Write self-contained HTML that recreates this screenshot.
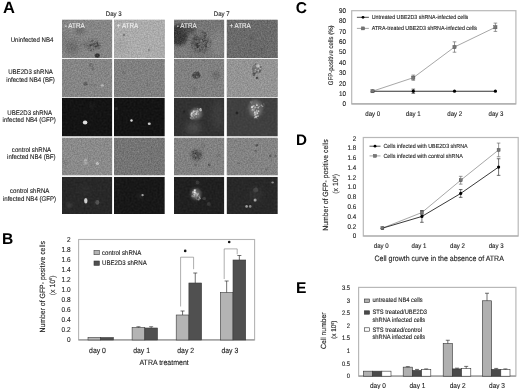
<!DOCTYPE html><html><head><meta charset="utf-8"><style>html,body{margin:0;padding:0;background:#fff;}svg{display:block;filter:grayscale(1) blur(0.35px);}text{font-family:"Liberation Sans", sans-serif;text-rendering:geometricPrecision;} .t text{stroke-width:0.22px;paint-order:stroke;}</style></head><body>
<svg width="520" height="389" viewBox="0 0 520 389">
<defs><filter id="b0" x="-50%" y="-50%" width="200%" height="200%"><feGaussianBlur stdDeviation="0.45"/></filter><filter id="b1" x="-50%" y="-50%" width="200%" height="200%"><feGaussianBlur stdDeviation="0.6"/></filter><filter id="b2" x="-50%" y="-50%" width="200%" height="200%"><feGaussianBlur stdDeviation="1.5"/></filter><filter id="b3" x="-50%" y="-50%" width="200%" height="200%"><feGaussianBlur stdDeviation="3"/></filter><filter id="grain0" x="0" y="0" width="100%" height="100%" color-interpolation-filters="sRGB"><feTurbulence type="fractalNoise" baseFrequency="0.7" numOctaves="2" seed="5" result="n"/><feColorMatrix in="n" type="matrix" values="1 0 0 0 0  1 0 0 0 0  1 0 0 0 0  0 0 0 0 1" result="g"/><feComposite in="SourceGraphic" in2="g" operator="arithmetic" k1="0" k2="1" k3="0.22" k4="-0.11"/></filter><filter id="grain1" x="0" y="0" width="100%" height="100%" color-interpolation-filters="sRGB"><feTurbulence type="fractalNoise" baseFrequency="0.7" numOctaves="2" seed="9" result="n"/><feColorMatrix in="n" type="matrix" values="1 0 0 0 0  1 0 0 0 0  1 0 0 0 0  0 0 0 0 1" result="g"/><feComposite in="SourceGraphic" in2="g" operator="arithmetic" k1="0" k2="1" k3="0.22" k4="-0.11"/></filter><filter id="grain2" x="0" y="0" width="100%" height="100%" color-interpolation-filters="sRGB"><feTurbulence type="fractalNoise" baseFrequency="0.5" numOctaves="2" seed="13" result="n"/><feColorMatrix in="n" type="matrix" values="1 0 0 0 0  1 0 0 0 0  1 0 0 0 0  0 0 0 0 1" result="g"/><feComposite in="SourceGraphic" in2="g" operator="arithmetic" k1="0" k2="1" k3="0.08" k4="-0.04"/></filter><filter id="noise" x="0" y="0" width="100%" height="100%"><feTurbulence type="fractalNoise" baseFrequency="0.45" numOctaves="2" seed="3"/><feColorMatrix type="matrix" values="0 0 0 0 0.5  0 0 0 0 0.5  0 0 0 0 0.5  1.6 0 0 0 -0.6"/><feComponentTransfer><feFuncA type="table" tableValues="0 0.25"/></feComponentTransfer></filter></defs>
<rect x="0" y="0" width="520" height="389" fill="#fff"/>
<text x="2.9" y="13.3" font-size="16.5" text-anchor="start" fill="#000" font-weight="bold" >A</text>
<text transform="translate(113.7,15.8) scale(1,1.1)" x="0" y="0" font-size="6.1" text-anchor="middle" fill="#1a1a1a" font-weight="normal" stroke="#1a1a1a" stroke-width="0.1" >Day 3</text>
<text transform="translate(221.7,15.8) scale(1,1.1)" x="0" y="0" font-size="6.1" text-anchor="middle" fill="#1a1a1a" font-weight="normal" stroke="#1a1a1a" stroke-width="0.1" >Day 7</text>
<clipPath id="c00"><rect x="62" y="19.6" width="50.3" height="38.6"/></clipPath>
<g clip-path="url(#c00)">
<g filter="url(#grain0)">
<rect x="62" y="19.6" width="50.3" height="38.6" fill="rgb(133,133,133)"/>
<ellipse cx="72" cy="47" rx="7" ry="7" fill="rgb(100,100,100)" opacity="0.8" filter="url(#b3)"/>
<ellipse cx="80" cy="31" rx="5" ry="3.5" fill="rgb(100,100,100)" opacity="0.7" filter="url(#b2)"/>
<ellipse cx="92" cy="45" rx="9" ry="6" fill="rgb(112,112,112)" opacity="0.7" filter="url(#b2)"/>
<ellipse cx="97.3" cy="55.5" rx="2.5" ry="2.2" fill="rgb(45,45,45)" opacity="0.9" filter="url(#b1)"/>
<ellipse cx="63" cy="38" rx="3" ry="8" fill="rgb(110,110,110)" opacity="0.6" filter="url(#b3)"/>
<g filter="url(#b0)">
<circle cx="97.22" cy="42.31" r="0.80" fill="rgb(64,64,64)" opacity="0.51"/>
<circle cx="97.62" cy="40.53" r="0.61" fill="rgb(127,127,127)" opacity="0.38"/>
<circle cx="92.13" cy="47.44" r="0.69" fill="rgb(142,142,142)" opacity="0.64"/>
<circle cx="93.66" cy="49.83" r="0.75" fill="rgb(57,57,57)" opacity="0.44"/>
<circle cx="92.01" cy="44.95" r="0.69" fill="rgb(51,51,51)" opacity="0.79"/>
<circle cx="92.35" cy="42.69" r="0.61" fill="rgb(131,131,131)" opacity="0.65"/>
<circle cx="95.28" cy="41.54" r="1.00" fill="rgb(118,118,118)" opacity="0.53"/>
<circle cx="90.32" cy="47.44" r="0.88" fill="rgb(127,127,127)" opacity="0.59"/>
<circle cx="98.28" cy="46.87" r="0.72" fill="rgb(71,71,71)" opacity="0.50"/>
<circle cx="98.54" cy="45.06" r="0.84" fill="rgb(52,52,52)" opacity="0.53"/>
<circle cx="97.76" cy="44.06" r="0.67" fill="rgb(66,66,66)" opacity="0.56"/>
<circle cx="95.79" cy="43.62" r="0.78" fill="rgb(68,68,68)" opacity="0.65"/>
<circle cx="93.34" cy="43.83" r="0.80" fill="rgb(46,46,46)" opacity="0.75"/>
<circle cx="94.49" cy="43.83" r="0.67" fill="rgb(74,74,74)" opacity="0.72"/>
<circle cx="97.33" cy="45.44" r="0.94" fill="rgb(60,60,60)" opacity="0.59"/>
<circle cx="100.24" cy="45.86" r="0.78" fill="rgb(61,61,61)" opacity="0.42"/>
<circle cx="97.54" cy="48.53" r="0.95" fill="rgb(139,139,139)" opacity="0.45"/>
<circle cx="93.30" cy="45.67" r="0.77" fill="rgb(71,71,71)" opacity="0.79"/>
<circle cx="94.12" cy="41.70" r="0.80" fill="rgb(55,55,55)" opacity="0.56"/>
<circle cx="90.54" cy="45.42" r="0.85" fill="rgb(58,58,58)" opacity="0.70"/>
<circle cx="87.84" cy="45.93" r="0.94" fill="rgb(138,138,138)" opacity="0.54"/>
<circle cx="98.06" cy="42.31" r="0.94" fill="rgb(117,117,117)" opacity="0.48"/>
<circle cx="97.09" cy="42.25" r="0.64" fill="rgb(55,55,55)" opacity="0.52"/>
<circle cx="93.44" cy="41.35" r="0.71" fill="rgb(128,128,128)" opacity="0.54"/>
<circle cx="90.15" cy="44.71" r="0.61" fill="rgb(57,57,57)" opacity="0.68"/>
<circle cx="99.40" cy="45.11" r="0.68" fill="rgb(69,69,69)" opacity="0.48"/>
<circle cx="87.34" cy="47.41" r="0.66" fill="rgb(135,135,135)" opacity="0.46"/>
<circle cx="93.72" cy="41.93" r="0.99" fill="rgb(130,130,130)" opacity="0.59"/>
<circle cx="88.57" cy="46.63" r="0.76" fill="rgb(54,54,54)" opacity="0.56"/>
<circle cx="95.10" cy="40.15" r="0.72" fill="rgb(141,141,141)" opacity="0.42"/>
<circle cx="89.90" cy="48.94" r="0.72" fill="rgb(137,137,137)" opacity="0.47"/>
<circle cx="91.66" cy="42.28" r="0.60" fill="rgb(116,116,116)" opacity="0.61"/>
<circle cx="94.12" cy="41.39" r="0.95" fill="rgb(136,136,136)" opacity="0.54"/>
<circle cx="93.14" cy="43.66" r="0.74" fill="rgb(65,65,65)" opacity="0.74"/>
<circle cx="91.93" cy="41.64" r="0.64" fill="rgb(123,123,123)" opacity="0.56"/>
<circle cx="93.00" cy="43.08" r="0.95" fill="rgb(115,115,115)" opacity="0.69"/>
<circle cx="88.21" cy="43.11" r="0.99" fill="rgb(125,125,125)" opacity="0.53"/>
<circle cx="88.41" cy="46.92" r="0.94" fill="rgb(125,125,125)" opacity="0.54"/>
<circle cx="99.12" cy="47.06" r="0.79" fill="rgb(122,122,122)" opacity="0.45"/>
<circle cx="96.61" cy="40.43" r="0.67" fill="rgb(121,121,121)" opacity="0.41"/>
<circle cx="97.15" cy="46.10" r="0.94" fill="rgb(55,55,55)" opacity="0.59"/>
<circle cx="89.66" cy="49.04" r="0.84" fill="rgb(141,141,141)" opacity="0.45"/>
<circle cx="87.17" cy="45.56" r="0.64" fill="rgb(47,47,47)" opacity="0.51"/>
<circle cx="98.86" cy="48.17" r="0.93" fill="rgb(63,63,63)" opacity="0.41"/>
<circle cx="97.51" cy="43.66" r="0.83" fill="rgb(47,47,47)" opacity="0.56"/>
<circle cx="89.27" cy="49.30" r="0.83" fill="rgb(128,128,128)" opacity="0.42"/>
<circle cx="89.43" cy="48.16" r="0.93" fill="rgb(65,65,65)" opacity="0.51"/>
<circle cx="91.74" cy="40.77" r="0.67" fill="rgb(67,67,67)" opacity="0.48"/>
<circle cx="91.05" cy="50.17" r="0.96" fill="rgb(52,52,52)" opacity="0.40"/>
<circle cx="92.63" cy="40.60" r="0.86" fill="rgb(45,45,45)" opacity="0.48"/>
<circle cx="94.55" cy="44.45" r="0.73" fill="rgb(72,72,72)" opacity="0.75"/>
<circle cx="86.78" cy="41.87" r="0.85" fill="rgb(131,131,131)" opacity="0.40"/>
<circle cx="96.01" cy="46.78" r="0.70" fill="rgb(54,54,54)" opacity="0.62"/>
<circle cx="88.94" cy="40.40" r="0.71" fill="rgb(128,128,128)" opacity="0.39"/>
<circle cx="95.43" cy="46.58" r="0.98" fill="rgb(54,54,54)" opacity="0.65"/>
<circle cx="90.24" cy="42.98" r="0.94" fill="rgb(124,124,124)" opacity="0.61"/>
<circle cx="90.35" cy="45.49" r="0.83" fill="rgb(52,52,52)" opacity="0.69"/>
<circle cx="86.16" cy="45.56" r="0.63" fill="rgb(64,64,64)" opacity="0.45"/>
<circle cx="89.65" cy="48.21" r="0.80" fill="rgb(119,119,119)" opacity="0.51"/>
<circle cx="93.02" cy="48.24" r="0.63" fill="rgb(120,120,120)" opacity="0.57"/>
<circle cx="86.01" cy="45.42" r="0.87" fill="rgb(83,83,83)" opacity="0.38"/>
<circle cx="84.64" cy="44.49" r="0.66" fill="rgb(76,76,76)" opacity="0.60"/>
<circle cx="86.70" cy="44.27" r="0.78" fill="rgb(66,66,66)" opacity="0.35"/>
<circle cx="81.16" cy="43.79" r="0.73" fill="rgb(91,91,91)" opacity="0.34"/>
<circle cx="84.15" cy="44.36" r="0.69" fill="rgb(74,74,74)" opacity="0.65"/>
<circle cx="81.82" cy="44.06" r="1.00" fill="rgb(125,125,125)" opacity="0.42"/>
<circle cx="86.36" cy="45.78" r="0.89" fill="rgb(142,142,142)" opacity="0.32"/>
<circle cx="85.74" cy="43.12" r="0.99" fill="rgb(124,124,124)" opacity="0.45"/>
<circle cx="85.52" cy="45.29" r="0.78" fill="rgb(134,134,134)" opacity="0.44"/>
<circle cx="86.55" cy="44.01" r="0.93" fill="rgb(91,91,91)" opacity="0.37"/>
<circle cx="86.40" cy="43.77" r="0.83" fill="rgb(141,141,141)" opacity="0.39"/>
<circle cx="83.92" cy="42.33" r="0.73" fill="rgb(124,124,124)" opacity="0.49"/>
</g>
</g>
</g>
<clipPath id="c01"><rect x="114" y="19.6" width="50.8" height="38.6"/></clipPath>
<g clip-path="url(#c01)">
<g filter="url(#grain0)">
<rect x="114" y="19.6" width="50.8" height="38.6" fill="rgb(171,171,171)"/>
<ellipse cx="124" cy="35" rx="1.3" ry="1.3" fill="rgb(110,110,110)" opacity="0.8" filter="url(#b1)"/>
<ellipse cx="149" cy="50" rx="1.5" ry="1.5" fill="rgb(130,130,130)" opacity="0.7" filter="url(#b1)"/>
<ellipse cx="120" cy="45" rx="6" ry="6" fill="rgb(150,150,150)" opacity="0.5" filter="url(#b3)"/>
</g>
</g>
<clipPath id="c02"><rect x="174" y="19.6" width="50.3" height="38.6"/></clipPath>
<g clip-path="url(#c02)">
<g filter="url(#grain0)">
<rect x="174" y="19.6" width="50.3" height="38.6" fill="rgb(118,118,118)"/>
<ellipse cx="179" cy="35" rx="9" ry="11" fill="rgb(58,58,58)" opacity="1" filter="url(#b2)"/>
<ellipse cx="188" cy="29" rx="8" ry="5" fill="rgb(72,72,72)" opacity="0.85" filter="url(#b2)"/>
<ellipse cx="200" cy="43" rx="9" ry="9" fill="rgb(95,95,95)" opacity="0.7" filter="url(#b2)"/>
<ellipse cx="218" cy="44" rx="7" ry="14" fill="rgb(140,140,140)" opacity="0.6" filter="url(#b3)"/>
<ellipse cx="182" cy="52" rx="8" ry="5" fill="rgb(135,135,135)" opacity="0.6" filter="url(#b3)"/>
<g filter="url(#b0)">
<circle cx="195.00" cy="43.47" r="0.65" fill="rgb(58,58,58)" opacity="0.60"/>
<circle cx="207.59" cy="37.21" r="0.59" fill="rgb(129,129,129)" opacity="0.46"/>
<circle cx="207.57" cy="41.98" r="0.76" fill="rgb(59,59,59)" opacity="0.53"/>
<circle cx="208.23" cy="43.01" r="0.80" fill="rgb(116,116,116)" opacity="0.51"/>
<circle cx="205.92" cy="44.50" r="0.62" fill="rgb(65,65,65)" opacity="0.59"/>
<circle cx="199.93" cy="47.31" r="0.85" fill="rgb(142,142,142)" opacity="0.64"/>
<circle cx="198.29" cy="49.12" r="0.68" fill="rgb(141,141,141)" opacity="0.55"/>
<circle cx="199.16" cy="45.29" r="0.62" fill="rgb(51,51,51)" opacity="0.72"/>
<circle cx="197.37" cy="44.37" r="0.73" fill="rgb(135,135,135)" opacity="0.69"/>
<circle cx="193.43" cy="50.43" r="0.89" fill="rgb(132,132,132)" opacity="0.39"/>
<circle cx="204.99" cy="36.14" r="0.83" fill="rgb(48,48,48)" opacity="0.51"/>
<circle cx="206.81" cy="40.53" r="0.56" fill="rgb(63,63,63)" opacity="0.56"/>
<circle cx="202.91" cy="32.49" r="0.79" fill="rgb(66,66,66)" opacity="0.41"/>
<circle cx="210.59" cy="42.62" r="0.90" fill="rgb(42,42,42)" opacity="0.40"/>
<circle cx="202.60" cy="32.19" r="0.58" fill="rgb(58,58,58)" opacity="0.40"/>
<circle cx="208.22" cy="38.40" r="0.88" fill="rgb(126,126,126)" opacity="0.46"/>
<circle cx="199.67" cy="42.94" r="0.76" fill="rgb(56,56,56)" opacity="0.81"/>
<circle cx="203.02" cy="52.19" r="0.70" fill="rgb(61,61,61)" opacity="0.42"/>
<circle cx="194.99" cy="38.12" r="0.89" fill="rgb(56,56,56)" opacity="0.54"/>
<circle cx="190.24" cy="40.63" r="0.73" fill="rgb(58,58,58)" opacity="0.39"/>
<circle cx="203.28" cy="32.82" r="0.75" fill="rgb(60,60,60)" opacity="0.42"/>
<circle cx="197.40" cy="47.05" r="0.80" fill="rgb(41,41,41)" opacity="0.61"/>
<circle cx="204.20" cy="52.69" r="0.60" fill="rgb(57,57,57)" opacity="0.39"/>
<circle cx="196.72" cy="39.51" r="0.63" fill="rgb(57,57,57)" opacity="0.64"/>
<circle cx="196.31" cy="39.80" r="0.81" fill="rgb(57,57,57)" opacity="0.63"/>
<circle cx="205.44" cy="38.32" r="0.59" fill="rgb(122,122,122)" opacity="0.57"/>
<circle cx="193.94" cy="41.08" r="0.78" fill="rgb(49,49,49)" opacity="0.55"/>
<circle cx="197.01" cy="49.84" r="0.68" fill="rgb(120,120,120)" opacity="0.50"/>
<circle cx="197.07" cy="45.81" r="0.85" fill="rgb(46,46,46)" opacity="0.64"/>
<circle cx="192.54" cy="43.15" r="0.58" fill="rgb(140,140,140)" opacity="0.49"/>
<circle cx="193.86" cy="37.63" r="0.82" fill="rgb(64,64,64)" opacity="0.49"/>
<circle cx="197.25" cy="34.35" r="0.62" fill="rgb(123,123,123)" opacity="0.47"/>
<circle cx="197.27" cy="40.67" r="0.67" fill="rgb(67,67,67)" opacity="0.69"/>
<circle cx="210.73" cy="41.06" r="0.88" fill="rgb(121,121,121)" opacity="0.39"/>
<circle cx="205.66" cy="49.91" r="0.77" fill="rgb(48,48,48)" opacity="0.46"/>
<circle cx="197.16" cy="36.50" r="0.53" fill="rgb(48,48,48)" opacity="0.56"/>
<circle cx="208.98" cy="46.76" r="0.87" fill="rgb(141,141,141)" opacity="0.43"/>
<circle cx="202.12" cy="31.79" r="0.80" fill="rgb(48,48,48)" opacity="0.39"/>
<circle cx="203.92" cy="43.05" r="0.67" fill="rgb(133,133,133)" opacity="0.70"/>
<circle cx="197.17" cy="37.05" r="0.84" fill="rgb(63,63,63)" opacity="0.58"/>
<circle cx="197.39" cy="35.84" r="0.71" fill="rgb(120,120,120)" opacity="0.53"/>
<circle cx="206.93" cy="49.62" r="0.50" fill="rgb(65,65,65)" opacity="0.43"/>
<circle cx="195.64" cy="43.10" r="0.67" fill="rgb(63,63,63)" opacity="0.63"/>
<circle cx="200.54" cy="38.45" r="0.63" fill="rgb(59,59,59)" opacity="0.68"/>
<circle cx="202.32" cy="39.44" r="0.58" fill="rgb(43,43,43)" opacity="0.70"/>
<circle cx="201.67" cy="47.25" r="0.65" fill="rgb(45,45,45)" opacity="0.64"/>
<circle cx="197.84" cy="44.80" r="0.81" fill="rgb(64,64,64)" opacity="0.70"/>
<circle cx="203.08" cy="41.00" r="0.65" fill="rgb(61,61,61)" opacity="0.72"/>
<circle cx="198.83" cy="46.77" r="0.68" fill="rgb(56,56,56)" opacity="0.65"/>
<circle cx="204.60" cy="33.07" r="0.67" fill="rgb(66,66,66)" opacity="0.41"/>
<circle cx="209.67" cy="39.73" r="0.86" fill="rgb(122,122,122)" opacity="0.43"/>
<circle cx="199.75" cy="34.21" r="0.83" fill="rgb(141,141,141)" opacity="0.50"/>
<circle cx="206.64" cy="46.19" r="0.79" fill="rgb(43,43,43)" opacity="0.53"/>
<circle cx="193.01" cy="48.53" r="0.52" fill="rgb(42,42,42)" opacity="0.43"/>
<circle cx="208.49" cy="35.44" r="0.51" fill="rgb(118,118,118)" opacity="0.38"/>
<circle cx="207.72" cy="46.32" r="0.83" fill="rgb(132,132,132)" opacity="0.49"/>
<circle cx="206.12" cy="42.75" r="0.79" fill="rgb(62,62,62)" opacity="0.60"/>
<circle cx="196.81" cy="43.91" r="0.83" fill="rgb(45,45,45)" opacity="0.68"/>
<circle cx="195.25" cy="45.05" r="0.80" fill="rgb(51,51,51)" opacity="0.59"/>
<circle cx="198.33" cy="39.21" r="0.67" fill="rgb(55,55,55)" opacity="0.68"/>
<circle cx="210.43" cy="40.58" r="0.80" fill="rgb(60,60,60)" opacity="0.40"/>
<circle cx="205.88" cy="46.32" r="0.71" fill="rgb(59,59,59)" opacity="0.56"/>
<circle cx="192.01" cy="47.96" r="0.87" fill="rgb(53,53,53)" opacity="0.41"/>
<circle cx="205.10" cy="35.59" r="0.61" fill="rgb(57,57,57)" opacity="0.49"/>
<circle cx="196.61" cy="36.61" r="0.78" fill="rgb(123,123,123)" opacity="0.55"/>
<circle cx="204.81" cy="40.59" r="0.84" fill="rgb(48,48,48)" opacity="0.64"/>
<circle cx="200.07" cy="39.92" r="0.57" fill="rgb(49,49,49)" opacity="0.74"/>
<circle cx="206.26" cy="34.66" r="0.90" fill="rgb(57,57,57)" opacity="0.43"/>
<circle cx="199.83" cy="49.86" r="0.83" fill="rgb(54,54,54)" opacity="0.54"/>
<circle cx="205.13" cy="50.35" r="0.66" fill="rgb(143,143,143)" opacity="0.46"/>
<circle cx="199.82" cy="36.55" r="0.59" fill="rgb(135,135,135)" opacity="0.60"/>
<circle cx="195.08" cy="35.67" r="0.60" fill="rgb(61,61,61)" opacity="0.47"/>
<circle cx="195.36" cy="50.53" r="0.63" fill="rgb(61,61,61)" opacity="0.44"/>
<circle cx="207.51" cy="37.92" r="0.64" fill="rgb(60,60,60)" opacity="0.48"/>
<circle cx="199.16" cy="42.19" r="0.58" fill="rgb(68,68,68)" opacity="0.79"/>
<circle cx="198.21" cy="43.48" r="0.55" fill="rgb(59,59,59)" opacity="0.74"/>
<circle cx="209.77" cy="39.73" r="0.81" fill="rgb(123,123,123)" opacity="0.42"/>
<circle cx="204.19" cy="45.89" r="0.82" fill="rgb(62,62,62)" opacity="0.63"/>
<circle cx="210.19" cy="46.30" r="0.71" fill="rgb(54,54,54)" opacity="0.39"/>
<circle cx="197.40" cy="47.30" r="0.77" fill="rgb(45,45,45)" opacity="0.60"/>
<circle cx="203.56" cy="45.38" r="0.57" fill="rgb(134,134,134)" opacity="0.67"/>
<circle cx="192.97" cy="38.79" r="0.79" fill="rgb(56,56,56)" opacity="0.48"/>
<circle cx="203.60" cy="41.57" r="0.62" fill="rgb(42,42,42)" opacity="0.71"/>
<circle cx="205.03" cy="48.10" r="0.72" fill="rgb(125,125,125)" opacity="0.54"/>
<circle cx="195.58" cy="39.93" r="0.85" fill="rgb(55,55,55)" opacity="0.61"/>
<circle cx="195.19" cy="48.42" r="0.64" fill="rgb(52,52,52)" opacity="0.50"/>
<circle cx="201.37" cy="48.48" r="0.64" fill="rgb(118,118,118)" opacity="0.59"/>
<circle cx="195.68" cy="33.69" r="0.55" fill="rgb(136,136,136)" opacity="0.42"/>
<circle cx="193.88" cy="35.66" r="0.67" fill="rgb(139,139,139)" opacity="0.44"/>
<circle cx="205.72" cy="44.52" r="0.56" fill="rgb(45,45,45)" opacity="0.60"/>
<circle cx="201.08" cy="44.00" r="0.58" fill="rgb(63,63,63)" opacity="0.78"/>
<circle cx="198.05" cy="43.66" r="0.73" fill="rgb(69,69,69)" opacity="0.73"/>
<circle cx="204.42" cy="38.09" r="0.84" fill="rgb(58,58,58)" opacity="0.59"/>
<circle cx="206.18" cy="46.06" r="0.70" fill="rgb(53,53,53)" opacity="0.56"/>
<circle cx="194.06" cy="43.15" r="0.51" fill="rgb(59,59,59)" opacity="0.56"/>
<circle cx="199.33" cy="43.95" r="0.88" fill="rgb(119,119,119)" opacity="0.77"/>
<circle cx="206.64" cy="45.21" r="0.52" fill="rgb(47,47,47)" opacity="0.55"/>
<circle cx="191.63" cy="43.36" r="0.87" fill="rgb(66,66,66)" opacity="0.45"/>
<circle cx="204.59" cy="34.46" r="0.84" fill="rgb(67,67,67)" opacity="0.46"/>
<circle cx="205.03" cy="47.77" r="0.64" fill="rgb(142,142,142)" opacity="0.55"/>
<circle cx="208.09" cy="41.11" r="0.80" fill="rgb(43,43,43)" opacity="0.51"/>
<circle cx="194.21" cy="35.04" r="0.70" fill="rgb(131,131,131)" opacity="0.43"/>
<circle cx="198.86" cy="45.78" r="0.62" fill="rgb(62,62,62)" opacity="0.69"/>
<circle cx="198.43" cy="35.47" r="0.86" fill="rgb(126,126,126)" opacity="0.54"/>
<circle cx="197.79" cy="43.15" r="0.74" fill="rgb(40,40,40)" opacity="0.73"/>
<circle cx="194.39" cy="48.73" r="0.56" fill="rgb(45,45,45)" opacity="0.47"/>
<circle cx="194.40" cy="35.26" r="0.66" fill="rgb(40,40,40)" opacity="0.44"/>
<circle cx="200.30" cy="32.81" r="0.51" fill="rgb(52,52,52)" opacity="0.44"/>
<circle cx="204.77" cy="32.62" r="0.66" fill="rgb(40,40,40)" opacity="0.39"/>
<circle cx="191.98" cy="41.94" r="0.57" fill="rgb(50,50,50)" opacity="0.47"/>
<circle cx="205.28" cy="37.55" r="0.82" fill="rgb(67,67,67)" opacity="0.55"/>
<circle cx="196.31" cy="37.00" r="0.61" fill="rgb(133,133,133)" opacity="0.55"/>
<circle cx="197.24" cy="33.56" r="0.77" fill="rgb(132,132,132)" opacity="0.44"/>
<circle cx="203.74" cy="51.31" r="0.58" fill="rgb(129,129,129)" opacity="0.45"/>
<circle cx="196.40" cy="44.85" r="0.88" fill="rgb(48,48,48)" opacity="0.64"/>
<circle cx="198.19" cy="38.85" r="0.77" fill="rgb(120,120,120)" opacity="0.66"/>
<circle cx="205.54" cy="47.65" r="0.83" fill="rgb(67,67,67)" opacity="0.54"/>
<circle cx="197.62" cy="40.62" r="0.59" fill="rgb(129,129,129)" opacity="0.70"/>
<circle cx="195.66" cy="35.23" r="0.79" fill="rgb(61,61,61)" opacity="0.47"/>
<circle cx="198.12" cy="42.22" r="0.56" fill="rgb(115,115,115)" opacity="0.74"/>
<circle cx="199.81" cy="48.19" r="0.77" fill="rgb(47,47,47)" opacity="0.61"/>
<circle cx="207.72" cy="45.63" r="0.85" fill="rgb(128,128,128)" opacity="0.50"/>
<circle cx="208.83" cy="47.62" r="0.63" fill="rgb(42,42,42)" opacity="0.42"/>
<circle cx="198.39" cy="52.53" r="0.54" fill="rgb(43,43,43)" opacity="0.41"/>
<circle cx="191.70" cy="45.78" r="0.60" fill="rgb(44,44,44)" opacity="0.43"/>
<circle cx="203.54" cy="44.38" r="0.50" fill="rgb(69,69,69)" opacity="0.69"/>
<circle cx="194.62" cy="43.87" r="0.67" fill="rgb(133,133,133)" opacity="0.58"/>
<circle cx="206.56" cy="43.27" r="0.58" fill="rgb(42,42,42)" opacity="0.58"/>
<circle cx="194.18" cy="51.15" r="0.53" fill="rgb(46,46,46)" opacity="0.39"/>
<circle cx="207.42" cy="45.04" r="0.76" fill="rgb(141,141,141)" opacity="0.52"/>
<circle cx="197.27" cy="44.77" r="0.68" fill="rgb(65,65,65)" opacity="0.68"/>
<circle cx="202.48" cy="49.43" r="0.58" fill="rgb(53,53,53)" opacity="0.54"/>
<circle cx="205.29" cy="33.20" r="0.64" fill="rgb(42,42,42)" opacity="0.40"/>
<circle cx="201.61" cy="47.68" r="0.67" fill="rgb(58,58,58)" opacity="0.62"/>
<circle cx="194.50" cy="39.21" r="0.90" fill="rgb(52,52,52)" opacity="0.55"/>
<circle cx="205.25" cy="50.74" r="0.89" fill="rgb(67,67,67)" opacity="0.44"/>
<circle cx="201.25" cy="40.71" r="0.88" fill="rgb(143,143,143)" opacity="0.77"/>
<circle cx="200.17" cy="48.52" r="0.66" fill="rgb(142,142,142)" opacity="0.59"/>
<circle cx="196.13" cy="52.05" r="0.57" fill="rgb(61,61,61)" opacity="0.40"/>
<circle cx="196.18" cy="42.93" r="0.76" fill="rgb(62,62,62)" opacity="0.66"/>
<circle cx="195.80" cy="41.01" r="0.64" fill="rgb(137,137,137)" opacity="0.63"/>
<circle cx="196.03" cy="33.77" r="0.62" fill="rgb(42,42,42)" opacity="0.43"/>
<circle cx="193.22" cy="48.28" r="0.78" fill="rgb(144,144,144)" opacity="0.44"/>
<circle cx="208.40" cy="39.70" r="0.56" fill="rgb(53,53,53)" opacity="0.48"/>
<circle cx="201.04" cy="43.43" r="0.64" fill="rgb(123,123,123)" opacity="0.80"/>
<circle cx="199.73" cy="51.01" r="0.82" fill="rgb(47,47,47)" opacity="0.49"/>
<circle cx="192.76" cy="43.18" r="0.71" fill="rgb(41,41,41)" opacity="0.50"/>
<circle cx="194.28" cy="48.44" r="0.69" fill="rgb(138,138,138)" opacity="0.48"/>
<circle cx="199.08" cy="38.94" r="0.52" fill="rgb(42,42,42)" opacity="0.69"/>
<circle cx="196.54" cy="36.94" r="0.82" fill="rgb(47,47,47)" opacity="0.56"/>
</g>
</g>
</g>
<clipPath id="c03"><rect x="226.6" y="19.6" width="51.2" height="38.6"/></clipPath>
<g clip-path="url(#c03)">
<g filter="url(#grain0)">
<rect x="226.6" y="19.6" width="51.2" height="38.6" fill="rgb(106,106,106)"/>
<ellipse cx="252" cy="38" rx="3" ry="3" fill="rgb(90,90,90)" opacity="0.5" filter="url(#b2)"/>
<ellipse cx="262" cy="50" rx="3" ry="3" fill="rgb(90,90,90)" opacity="0.4" filter="url(#b2)"/>
<ellipse cx="250" cy="50" rx="6" ry="5" fill="rgb(95,95,95)" opacity="0.3" filter="url(#b3)"/>
</g>
</g>
<clipPath id="c10"><rect x="62" y="59" width="50.3" height="38.4"/></clipPath>
<g clip-path="url(#c10)">
<g filter="url(#grain1)">
<rect x="62" y="59" width="50.3" height="38.4" fill="rgb(133,133,133)"/>
<ellipse cx="91.7" cy="66.7" rx="2.5" ry="3.8" fill="rgb(115,115,115)" opacity="0.5" filter="url(#b1)"/>
<ellipse cx="85.5" cy="83.7" rx="2.2" ry="2" fill="rgb(90,90,90)" opacity="0.8" filter="url(#b1)"/>
<ellipse cx="102.4" cy="85.4" rx="1.5" ry="1.2" fill="rgb(200,200,200)" opacity="0.8" filter="url(#b1)"/>
<ellipse cx="93" cy="85" rx="4" ry="1.5" fill="rgb(120,120,120)" opacity="0.5" filter="url(#b1)"/>
<g filter="url(#b0)">
<circle cx="90.13" cy="63.17" r="0.66" fill="rgb(71,71,71)" opacity="0.33"/>
<circle cx="90.99" cy="70.01" r="0.82" fill="rgb(161,161,161)" opacity="0.37"/>
<circle cx="91.69" cy="64.62" r="0.57" fill="rgb(76,76,76)" opacity="0.53"/>
<circle cx="93.09" cy="69.02" r="0.58" fill="rgb(88,88,88)" opacity="0.37"/>
<circle cx="92.71" cy="69.48" r="0.85" fill="rgb(88,88,88)" opacity="0.37"/>
<circle cx="92.39" cy="66.55" r="0.57" fill="rgb(72,72,72)" opacity="0.57"/>
<circle cx="91.75" cy="64.82" r="0.86" fill="rgb(181,181,181)" opacity="0.54"/>
<circle cx="93.31" cy="66.57" r="0.67" fill="rgb(167,167,167)" opacity="0.43"/>
<circle cx="89.74" cy="64.86" r="0.83" fill="rgb(71,71,71)" opacity="0.40"/>
<circle cx="92.16" cy="64.66" r="0.71" fill="rgb(80,80,80)" opacity="0.50"/>
<circle cx="91.05" cy="64.00" r="0.75" fill="rgb(80,80,80)" opacity="0.46"/>
<circle cx="92.78" cy="64.99" r="0.72" fill="rgb(158,158,158)" opacity="0.47"/>
<circle cx="92.88" cy="67.47" r="0.59" fill="rgb(75,75,75)" opacity="0.48"/>
<circle cx="91.29" cy="62.66" r="0.78" fill="rgb(183,183,183)" opacity="0.35"/>
<circle cx="91.03" cy="70.22" r="0.75" fill="rgb(163,163,163)" opacity="0.35"/>
<circle cx="89.90" cy="66.03" r="0.55" fill="rgb(98,98,98)" opacity="0.46"/>
<circle cx="92.98" cy="65.35" r="0.62" fill="rgb(99,99,99)" opacity="0.46"/>
<circle cx="91.10" cy="64.05" r="0.52" fill="rgb(75,75,75)" opacity="0.47"/>
</g>
</g>
</g>
<clipPath id="c11"><rect x="114" y="59" width="50.8" height="38.4"/></clipPath>
<g clip-path="url(#c11)">
<g filter="url(#grain1)">
<rect x="114" y="59" width="50.8" height="38.4" fill="rgb(128,128,128)"/>
<ellipse cx="123.5" cy="73" rx="1.6" ry="1.6" fill="rgb(100,100,100)" opacity="0.55" filter="url(#b1)"/>
<ellipse cx="148" cy="85" rx="1.8" ry="1.8" fill="rgb(108,108,108)" opacity="0.4" filter="url(#b1)"/>
<ellipse cx="132" cy="82" rx="2" ry="2" fill="rgb(112,112,112)" opacity="0.35" filter="url(#b2)"/>
</g>
</g>
<clipPath id="c12"><rect x="174" y="59" width="50.3" height="38.4"/></clipPath>
<g clip-path="url(#c12)">
<g filter="url(#grain1)">
<rect x="174" y="59" width="50.3" height="38.4" fill="rgb(128,128,128)"/>
<ellipse cx="196.3" cy="75.2" rx="4" ry="3.5" fill="rgb(70,70,70)" opacity="0.9" filter="url(#b1)"/>
<ellipse cx="216" cy="75.2" rx="4" ry="4" fill="rgb(95,95,95)" opacity="0.6" filter="url(#b2)"/>
<ellipse cx="194" cy="89" rx="2.5" ry="2.5" fill="rgb(100,100,100)" opacity="0.5" filter="url(#b2)"/>
<g filter="url(#b0)">
<circle cx="197.16" cy="76.89" r="0.92" fill="rgb(147,147,147)" opacity="0.49"/>
<circle cx="196.06" cy="78.30" r="0.86" fill="rgb(128,128,128)" opacity="0.36"/>
<circle cx="196.08" cy="73.43" r="0.82" fill="rgb(125,125,125)" opacity="0.50"/>
<circle cx="194.32" cy="73.66" r="0.97" fill="rgb(129,129,129)" opacity="0.42"/>
<circle cx="198.38" cy="72.67" r="0.85" fill="rgb(45,45,45)" opacity="0.34"/>
<circle cx="198.90" cy="73.17" r="0.69" fill="rgb(151,151,151)" opacity="0.34"/>
<circle cx="196.57" cy="76.44" r="0.68" fill="rgb(145,145,145)" opacity="0.56"/>
<circle cx="194.89" cy="74.23" r="0.67" fill="rgb(46,46,46)" opacity="0.51"/>
<circle cx="194.91" cy="75.92" r="0.60" fill="rgb(135,135,135)" opacity="0.53"/>
<circle cx="194.97" cy="77.43" r="0.79" fill="rgb(59,59,59)" opacity="0.41"/>
<circle cx="197.73" cy="72.10" r="0.99" fill="rgb(67,67,67)" opacity="0.32"/>
<circle cx="198.31" cy="74.26" r="0.83" fill="rgb(46,46,46)" opacity="0.46"/>
<circle cx="194.18" cy="76.99" r="0.97" fill="rgb(135,135,135)" opacity="0.39"/>
<circle cx="195.28" cy="75.37" r="0.91" fill="rgb(67,67,67)" opacity="0.59"/>
<circle cx="198.38" cy="77.72" r="0.61" fill="rgb(127,127,127)" opacity="0.34"/>
<circle cx="195.19" cy="75.98" r="0.97" fill="rgb(72,72,72)" opacity="0.55"/>
<circle cx="196.62" cy="73.89" r="0.73" fill="rgb(47,47,47)" opacity="0.55"/>
<circle cx="193.84" cy="76.52" r="1.00" fill="rgb(46,46,46)" opacity="0.39"/>
<circle cx="199.71" cy="75.43" r="0.76" fill="rgb(62,62,62)" opacity="0.32"/>
<circle cx="198.58" cy="74.89" r="0.77" fill="rgb(72,72,72)" opacity="0.45"/>
<circle cx="193.03" cy="75.15" r="0.94" fill="rgb(66,66,66)" opacity="0.34"/>
<circle cx="199.45" cy="76.11" r="0.92" fill="rgb(58,58,58)" opacity="0.34"/>
</g>
</g>
</g>
<clipPath id="c13"><rect x="226.6" y="59" width="51.2" height="38.4"/></clipPath>
<g clip-path="url(#c13)">
<g filter="url(#grain1)">
<rect x="226.6" y="59" width="51.2" height="38.4" fill="rgb(148,148,148)"/>
<ellipse cx="256.8" cy="68.4" rx="5" ry="5" fill="rgb(110,110,110)" opacity="0.6" filter="url(#b1)"/>
<ellipse cx="258" cy="66" rx="2" ry="2" fill="rgb(200,200,200)" opacity="0.7" filter="url(#b1)"/>
<ellipse cx="254" cy="74" rx="1.5" ry="2" fill="rgb(70,70,70)" opacity="0.8" filter="url(#b1)"/>
<ellipse cx="257" cy="78" rx="1.2" ry="1.2" fill="rgb(60,60,60)" opacity="0.8" filter="url(#b1)"/>
<g filter="url(#b0)">
<circle cx="259.73" cy="72.26" r="0.79" fill="rgb(65,65,65)" opacity="0.36"/>
<circle cx="258.43" cy="68.04" r="0.90" fill="rgb(88,88,88)" opacity="0.57"/>
<circle cx="254.53" cy="72.02" r="0.89" fill="rgb(81,81,81)" opacity="0.41"/>
<circle cx="258.62" cy="64.72" r="0.82" fill="rgb(207,207,207)" opacity="0.43"/>
<circle cx="259.83" cy="70.63" r="0.94" fill="rgb(67,67,67)" opacity="0.43"/>
<circle cx="259.80" cy="72.06" r="0.78" fill="rgb(70,70,70)" opacity="0.37"/>
<circle cx="258.15" cy="65.89" r="0.98" fill="rgb(206,206,206)" opacity="0.51"/>
<circle cx="258.35" cy="66.72" r="0.97" fill="rgb(215,215,215)" opacity="0.54"/>
<circle cx="258.25" cy="70.77" r="0.92" fill="rgb(200,200,200)" opacity="0.51"/>
<circle cx="255.41" cy="69.62" r="0.72" fill="rgb(202,202,202)" opacity="0.57"/>
<circle cx="260.60" cy="68.70" r="0.65" fill="rgb(209,209,209)" opacity="0.41"/>
<circle cx="253.76" cy="68.20" r="0.66" fill="rgb(90,90,90)" opacity="0.47"/>
<circle cx="255.13" cy="73.25" r="0.85" fill="rgb(76,76,76)" opacity="0.36"/>
<circle cx="255.69" cy="63.92" r="1.00" fill="rgb(77,77,77)" opacity="0.40"/>
<circle cx="259.26" cy="67.17" r="0.99" fill="rgb(94,94,94)" opacity="0.49"/>
<circle cx="260.72" cy="70.44" r="0.96" fill="rgb(89,89,89)" opacity="0.37"/>
<circle cx="259.76" cy="68.60" r="0.79" fill="rgb(212,212,212)" opacity="0.47"/>
<circle cx="252.66" cy="71.36" r="0.71" fill="rgb(88,88,88)" opacity="0.33"/>
<circle cx="253.03" cy="69.47" r="0.74" fill="rgb(78,78,78)" opacity="0.40"/>
<circle cx="261.08" cy="65.46" r="0.76" fill="rgb(218,218,218)" opacity="0.32"/>
<circle cx="254.48" cy="68.10" r="0.79" fill="rgb(76,76,76)" opacity="0.52"/>
<circle cx="254.86" cy="72.06" r="0.73" fill="rgb(229,229,229)" opacity="0.42"/>
<circle cx="261.03" cy="66.91" r="0.84" fill="rgb(76,76,76)" opacity="0.36"/>
<circle cx="256.68" cy="71.92" r="0.97" fill="rgb(65,65,65)" opacity="0.47"/>
<circle cx="256.29" cy="63.09" r="0.61" fill="rgb(203,203,203)" opacity="0.36"/>
<circle cx="258.99" cy="66.74" r="0.98" fill="rgb(201,201,201)" opacity="0.50"/>
</g>
</g>
</g>
<clipPath id="c20"><rect x="62" y="98" width="50.3" height="38.5"/></clipPath>
<g clip-path="url(#c20)">
<g filter="url(#grain2)">
<rect x="62" y="98" width="50.3" height="38.5" fill="rgb(20,20,20)"/>
<ellipse cx="85.1" cy="122.5" rx="2.3" ry="1.9" fill="rgb(225,225,225)" opacity="1" filter="url(#b1)"/>
<ellipse cx="92" cy="106" rx="3" ry="3" fill="rgb(35,35,35)" opacity="0.5" filter="url(#b2)"/>
</g>
</g>
<clipPath id="c21"><rect x="114" y="98" width="50.8" height="38.5"/></clipPath>
<g clip-path="url(#c21)">
<g filter="url(#grain2)">
<rect x="114" y="98" width="50.8" height="38.5" fill="rgb(20,20,20)"/>
<ellipse cx="131.5" cy="120.5" rx="1.2" ry="1.2" fill="rgb(220,220,220)" opacity="1" filter="url(#b1)"/>
<ellipse cx="149.3" cy="123.8" rx="1.5" ry="1.2" fill="rgb(200,200,200)" opacity="1" filter="url(#b1)"/>
<ellipse cx="116.5" cy="108.6" rx="1.5" ry="1.5" fill="rgb(60,60,60)" opacity="0.6" filter="url(#b1)"/>
</g>
</g>
<clipPath id="c22"><rect x="174" y="98" width="50.3" height="38.5"/></clipPath>
<g clip-path="url(#c22)">
<g filter="url(#grain2)">
<rect x="174" y="98" width="50.3" height="38.5" fill="rgb(50,50,50)"/>
<ellipse cx="193.5" cy="127.8" rx="7" ry="6" fill="rgb(82,82,82)" opacity="0.8" filter="url(#b3)"/>
<ellipse cx="196" cy="113.7" rx="6" ry="5.5" fill="rgb(130,130,130)" opacity="0.8" filter="url(#b2)"/>
<ellipse cx="218" cy="115" rx="6" ry="15" fill="rgb(70,70,70)" opacity="0.6" filter="url(#b3)"/>
<ellipse cx="184" cy="112" rx="1.5" ry="1.5" fill="rgb(30,30,30)" opacity="0.6" filter="url(#b1)"/>
<g filter="url(#b0)">
<circle cx="191.51" cy="115.64" r="0.65" fill="rgb(199,199,199)" opacity="0.53"/>
<circle cx="192.18" cy="115.13" r="0.88" fill="rgb(184,184,184)" opacity="0.64"/>
<circle cx="192.04" cy="116.64" r="0.65" fill="rgb(170,170,170)" opacity="0.50"/>
<circle cx="192.63" cy="113.26" r="1.14" fill="rgb(173,173,173)" opacity="0.72"/>
<circle cx="191.00" cy="114.96" r="0.83" fill="rgb(240,240,240)" opacity="0.50"/>
<circle cx="196.03" cy="113.98" r="0.99" fill="rgb(247,247,247)" opacity="0.79"/>
<circle cx="198.07" cy="113.91" r="0.72" fill="rgb(247,247,247)" opacity="0.51"/>
<circle cx="196.33" cy="117.05" r="0.77" fill="rgb(196,196,196)" opacity="0.51"/>
<circle cx="191.58" cy="116.11" r="0.66" fill="rgb(251,251,251)" opacity="0.50"/>
<circle cx="194.53" cy="111.58" r="0.69" fill="rgb(245,245,245)" opacity="0.67"/>
<circle cx="194.56" cy="115.61" r="0.73" fill="rgb(170,170,170)" opacity="0.78"/>
<circle cx="193.25" cy="112.13" r="0.85" fill="rgb(195,195,195)" opacity="0.69"/>
<circle cx="193.67" cy="111.33" r="1.00" fill="rgb(236,236,236)" opacity="0.62"/>
<circle cx="196.63" cy="112.40" r="0.61" fill="rgb(240,240,240)" opacity="0.63"/>
<circle cx="191.86" cy="113.48" r="0.74" fill="rgb(183,183,183)" opacity="0.63"/>
<circle cx="193.84" cy="114.71" r="0.77" fill="rgb(172,172,172)" opacity="0.87"/>
<circle cx="191.35" cy="114.17" r="0.82" fill="rgb(245,245,245)" opacity="0.57"/>
<circle cx="191.62" cy="113.09" r="0.94" fill="rgb(240,240,240)" opacity="0.59"/>
<circle cx="197.19" cy="111.68" r="1.13" fill="rgb(198,198,198)" opacity="0.51"/>
<circle cx="195.14" cy="111.42" r="1.18" fill="rgb(172,172,172)" opacity="0.63"/>
<circle cx="195.34" cy="113.98" r="0.88" fill="rgb(173,173,173)" opacity="0.88"/>
<circle cx="195.15" cy="113.62" r="0.68" fill="rgb(191,191,191)" opacity="0.90"/>
<circle cx="197.59" cy="110.97" r="0.77" fill="rgb(169,169,169)" opacity="0.61"/>
<circle cx="199.46" cy="109.88" r="0.83" fill="rgb(162,162,162)" opacity="0.98"/>
<circle cx="200.65" cy="108.95" r="0.94" fill="rgb(245,245,245)" opacity="0.71"/>
<circle cx="197.92" cy="111.41" r="0.89" fill="rgb(175,175,175)" opacity="0.61"/>
<circle cx="197.80" cy="108.79" r="0.60" fill="rgb(226,226,226)" opacity="0.62"/>
<circle cx="200.86" cy="110.23" r="0.90" fill="rgb(244,244,244)" opacity="0.75"/>
<circle cx="200.10" cy="108.82" r="0.66" fill="rgb(182,182,182)" opacity="0.76"/>
<circle cx="197.37" cy="111.10" r="0.92" fill="rgb(161,161,161)" opacity="0.56"/>
<circle cx="200.62" cy="109.62" r="0.80" fill="rgb(158,158,158)" opacity="0.78"/>
<circle cx="200.73" cy="110.53" r="0.87" fill="rgb(179,179,179)" opacity="0.75"/>
<circle cx="201.44" cy="110.27" r="0.64" fill="rgb(159,159,159)" opacity="0.64"/>
<circle cx="196.97" cy="110.89" r="0.87" fill="rgb(182,182,182)" opacity="0.51"/>
<circle cx="192.49" cy="116.71" r="0.65" fill="rgb(147,147,147)" opacity="0.63"/>
<circle cx="190.57" cy="117.57" r="0.94" fill="rgb(140,140,140)" opacity="0.66"/>
<circle cx="192.03" cy="118.76" r="0.86" fill="rgb(141,141,141)" opacity="0.79"/>
<circle cx="192.90" cy="116.53" r="0.61" fill="rgb(218,218,218)" opacity="0.55"/>
<circle cx="190.80" cy="118.08" r="0.96" fill="rgb(138,138,138)" opacity="0.74"/>
<circle cx="191.59" cy="116.67" r="0.75" fill="rgb(157,157,157)" opacity="0.62"/>
<circle cx="193.53" cy="117.49" r="0.75" fill="rgb(163,163,163)" opacity="0.64"/>
<circle cx="193.89" cy="118.65" r="0.67" fill="rgb(158,158,158)" opacity="0.55"/>
</g>
</g>
</g>
<clipPath id="c23"><rect x="226.6" y="98" width="51.2" height="38.5"/></clipPath>
<g clip-path="url(#c23)">
<g filter="url(#grain2)">
<rect x="226.6" y="98" width="51.2" height="38.5" fill="rgb(64,64,64)"/>
<ellipse cx="255.5" cy="108.5" rx="7" ry="9" fill="rgb(115,115,115)" opacity="0.8" filter="url(#b2)"/>
<ellipse cx="237" cy="113.1" rx="1.5" ry="1.5" fill="rgb(30,30,30)" opacity="0.8" filter="url(#b1)"/>
<g filter="url(#b0)">
<circle cx="255.67" cy="107.36" r="0.68" fill="rgb(230,230,230)" opacity="0.85"/>
<circle cx="256.03" cy="112.08" r="0.65" fill="rgb(248,248,248)" opacity="0.56"/>
<circle cx="251.87" cy="107.41" r="1.02" fill="rgb(176,176,176)" opacity="0.48"/>
<circle cx="252.91" cy="106.14" r="0.67" fill="rgb(257,257,257)" opacity="0.53"/>
<circle cx="256.81" cy="110.97" r="0.83" fill="rgb(233,233,233)" opacity="0.68"/>
<circle cx="254.12" cy="110.07" r="1.04" fill="rgb(157,157,157)" opacity="0.70"/>
<circle cx="253.90" cy="105.89" r="0.77" fill="rgb(235,235,235)" opacity="0.59"/>
<circle cx="251.99" cy="107.41" r="0.90" fill="rgb(167,167,167)" opacity="0.49"/>
<circle cx="256.87" cy="105.09" r="0.95" fill="rgb(236,236,236)" opacity="0.57"/>
<circle cx="256.36" cy="104.16" r="0.65" fill="rgb(182,182,182)" opacity="0.47"/>
<circle cx="255.28" cy="107.58" r="0.98" fill="rgb(172,172,172)" opacity="0.86"/>
<circle cx="253.05" cy="109.48" r="1.17" fill="rgb(171,171,171)" opacity="0.62"/>
<circle cx="256.96" cy="105.34" r="0.76" fill="rgb(259,259,259)" opacity="0.60"/>
<circle cx="252.59" cy="110.35" r="1.17" fill="rgb(173,173,173)" opacity="0.53"/>
<circle cx="251.89" cy="107.29" r="1.00" fill="rgb(253,253,253)" opacity="0.48"/>
<circle cx="252.28" cy="107.12" r="1.12" fill="rgb(243,243,243)" opacity="0.52"/>
<circle cx="255.12" cy="112.87" r="0.94" fill="rgb(178,178,178)" opacity="0.45"/>
<circle cx="254.46" cy="107.90" r="0.73" fill="rgb(164,164,164)" opacity="0.80"/>
<circle cx="252.30" cy="109.67" r="0.66" fill="rgb(230,230,230)" opacity="0.53"/>
<circle cx="258.53" cy="111.27" r="0.90" fill="rgb(237,237,237)" opacity="0.54"/>
<circle cx="258.14" cy="107.83" r="0.74" fill="rgb(242,242,242)" opacity="0.73"/>
<circle cx="254.86" cy="111.74" r="0.82" fill="rgb(235,235,235)" opacity="0.58"/>
<circle cx="259.09" cy="106.33" r="0.63" fill="rgb(235,235,235)" opacity="0.54"/>
<circle cx="256.96" cy="104.11" r="0.64" fill="rgb(166,166,166)" opacity="0.45"/>
<circle cx="257.00" cy="112.70" r="0.81" fill="rgb(171,171,171)" opacity="0.47"/>
<circle cx="256.50" cy="110.26" r="0.64" fill="rgb(176,176,176)" opacity="0.78"/>
<circle cx="258.06" cy="115.99" r="0.86" fill="rgb(231,231,231)" opacity="0.63"/>
<circle cx="254.89" cy="112.33" r="0.73" fill="rgb(153,153,153)" opacity="0.53"/>
<circle cx="254.65" cy="112.78" r="0.76" fill="rgb(226,226,226)" opacity="0.53"/>
<circle cx="257.25" cy="113.22" r="0.97" fill="rgb(232,232,232)" opacity="0.87"/>
<circle cx="254.60" cy="115.60" r="0.98" fill="rgb(164,164,164)" opacity="0.49"/>
<circle cx="255.79" cy="116.90" r="1.02" fill="rgb(248,248,248)" opacity="0.49"/>
<circle cx="255.40" cy="114.32" r="0.97" fill="rgb(231,231,231)" opacity="0.70"/>
<circle cx="254.83" cy="114.88" r="0.65" fill="rgb(220,220,220)" opacity="0.58"/>
<circle cx="256.73" cy="113.86" r="0.66" fill="rgb(160,160,160)" opacity="0.95"/>
<circle cx="256.21" cy="116.77" r="1.03" fill="rgb(227,227,227)" opacity="0.54"/>
<circle cx="254.16" cy="113.14" r="0.66" fill="rgb(227,227,227)" opacity="0.46"/>
<circle cx="254.77" cy="112.49" r="0.80" fill="rgb(233,233,233)" opacity="0.53"/>
<circle cx="255.81" cy="115.24" r="0.62" fill="rgb(165,165,165)" opacity="0.71"/>
<circle cx="258.51" cy="111.21" r="0.63" fill="rgb(239,239,239)" opacity="0.48"/>
<circle cx="252.24" cy="101.88" r="0.84" fill="rgb(120,120,120)" opacity="0.74"/>
<circle cx="251.22" cy="102.16" r="0.89" fill="rgb(118,118,118)" opacity="0.72"/>
<circle cx="250.62" cy="101.90" r="0.90" fill="rgb(123,123,123)" opacity="0.59"/>
<circle cx="251.60" cy="103.42" r="0.68" fill="rgb(118,118,118)" opacity="0.66"/>
<circle cx="251.54" cy="103.67" r="0.73" fill="rgb(125,125,125)" opacity="0.60"/>
<circle cx="250.99" cy="102.55" r="0.59" fill="rgb(128,128,128)" opacity="0.70"/>
<circle cx="261.55" cy="104.43" r="0.58" fill="rgb(121,121,121)" opacity="0.59"/>
<circle cx="263.73" cy="103.77" r="0.64" fill="rgb(129,129,129)" opacity="0.62"/>
<circle cx="261.97" cy="106.91" r="0.53" fill="rgb(117,117,117)" opacity="0.47"/>
<circle cx="262.61" cy="106.26" r="0.85" fill="rgb(193,193,193)" opacity="0.64"/>
<circle cx="264.08" cy="104.80" r="0.60" fill="rgb(105,105,105)" opacity="0.68"/>
<circle cx="261.44" cy="105.60" r="0.75" fill="rgb(204,204,204)" opacity="0.57"/>
<circle cx="254.70" cy="117.65" r="0.54" fill="rgb(210,210,210)" opacity="0.51"/>
<circle cx="256.71" cy="116.62" r="0.79" fill="rgb(210,210,210)" opacity="0.54"/>
<circle cx="257.07" cy="118.41" r="0.73" fill="rgb(122,122,122)" opacity="0.59"/>
<circle cx="254.91" cy="117.69" r="0.65" fill="rgb(203,203,203)" opacity="0.59"/>
</g>
</g>
</g>
<clipPath id="c30"><rect x="62" y="137.6" width="50.3" height="37.8"/></clipPath>
<g clip-path="url(#c30)">
<g filter="url(#grain1)">
<rect x="62" y="137.6" width="50.3" height="37.8" fill="rgb(138,138,138)"/>
<ellipse cx="85.5" cy="161.7" rx="2" ry="3" fill="rgb(175,175,175)" opacity="0.7" filter="url(#b1)"/>
<ellipse cx="97.3" cy="163.4" rx="1.5" ry="1.5" fill="rgb(210,210,210)" opacity="0.8" filter="url(#b1)"/>
<ellipse cx="65" cy="163" rx="3" ry="3" fill="rgb(115,115,115)" opacity="0.5" filter="url(#b2)"/>
</g>
</g>
<clipPath id="c31"><rect x="114" y="137.6" width="50.8" height="37.8"/></clipPath>
<g clip-path="url(#c31)">
<g filter="url(#grain1)">
<rect x="114" y="137.6" width="50.8" height="37.8" fill="rgb(116,116,116)"/>
<ellipse cx="142" cy="152" rx="2" ry="3" fill="rgb(125,125,125)" opacity="0.4" filter="url(#b1)"/>
<ellipse cx="134" cy="163" rx="3" ry="3" fill="rgb(125,125,125)" opacity="0.4" filter="url(#b1)"/>
</g>
</g>
<clipPath id="c32"><rect x="174" y="137.6" width="50.3" height="37.8"/></clipPath>
<g clip-path="url(#c32)">
<g filter="url(#grain1)">
<rect x="174" y="137.6" width="50.3" height="37.8" fill="rgb(129,129,129)"/>
<ellipse cx="196.3" cy="155" rx="5.5" ry="5.5" fill="rgb(80,80,80)" opacity="0.85" filter="url(#b2)"/>
<ellipse cx="209.3" cy="165.1" rx="1.4" ry="1.4" fill="rgb(80,80,80)" opacity="0.8" filter="url(#b1)"/>
<ellipse cx="195.8" cy="165.1" rx="1.4" ry="1.4" fill="rgb(95,95,95)" opacity="0.7" filter="url(#b1)"/>
<ellipse cx="218.4" cy="155.5" rx="2" ry="2" fill="rgb(110,110,110)" opacity="0.6" filter="url(#b1)"/>
<ellipse cx="203" cy="146" rx="2" ry="4" fill="rgb(110,110,110)" opacity="0.4" filter="url(#b1)"/>
<g filter="url(#b0)">
<circle cx="194.54" cy="151.51" r="0.86" fill="rgb(56,56,56)" opacity="0.40"/>
<circle cx="194.96" cy="150.58" r="0.80" fill="rgb(53,53,53)" opacity="0.34"/>
<circle cx="195.55" cy="158.27" r="0.65" fill="rgb(58,58,58)" opacity="0.44"/>
<circle cx="200.78" cy="155.77" r="0.76" fill="rgb(106,106,106)" opacity="0.35"/>
<circle cx="199.88" cy="152.90" r="0.66" fill="rgb(49,49,49)" opacity="0.38"/>
<circle cx="199.46" cy="151.81" r="0.83" fill="rgb(116,116,116)" opacity="0.35"/>
<circle cx="196.78" cy="150.63" r="0.62" fill="rgb(60,60,60)" opacity="0.36"/>
<circle cx="195.58" cy="153.14" r="0.83" fill="rgb(48,48,48)" opacity="0.55"/>
<circle cx="199.24" cy="156.99" r="0.70" fill="rgb(120,120,120)" opacity="0.43"/>
<circle cx="200.05" cy="157.29" r="0.72" fill="rgb(108,108,108)" opacity="0.36"/>
<circle cx="195.48" cy="157.57" r="0.66" fill="rgb(41,41,41)" opacity="0.49"/>
<circle cx="197.98" cy="157.65" r="0.83" fill="rgb(114,114,114)" opacity="0.46"/>
<circle cx="198.25" cy="155.94" r="0.83" fill="rgb(65,65,65)" opacity="0.53"/>
<circle cx="200.75" cy="154.74" r="0.87" fill="rgb(61,61,61)" opacity="0.36"/>
<circle cx="199.52" cy="152.85" r="0.75" fill="rgb(105,105,105)" opacity="0.40"/>
<circle cx="195.92" cy="151.68" r="0.65" fill="rgb(63,63,63)" opacity="0.44"/>
<circle cx="192.59" cy="152.48" r="0.76" fill="rgb(107,107,107)" opacity="0.35"/>
<circle cx="195.79" cy="155.49" r="0.95" fill="rgb(130,130,130)" opacity="0.65"/>
<circle cx="194.08" cy="154.15" r="0.74" fill="rgb(133,133,133)" opacity="0.52"/>
<circle cx="192.81" cy="151.76" r="0.69" fill="rgb(54,54,54)" opacity="0.33"/>
<circle cx="197.19" cy="152.63" r="0.60" fill="rgb(51,51,51)" opacity="0.50"/>
<circle cx="196.96" cy="159.53" r="0.88" fill="rgb(123,123,123)" opacity="0.35"/>
<circle cx="198.06" cy="150.54" r="0.96" fill="rgb(131,131,131)" opacity="0.33"/>
<circle cx="199.28" cy="153.92" r="0.76" fill="rgb(59,59,59)" opacity="0.46"/>
<circle cx="193.39" cy="151.62" r="0.74" fill="rgb(40,40,40)" opacity="0.36"/>
<circle cx="194.94" cy="150.26" r="0.95" fill="rgb(109,109,109)" opacity="0.32"/>
<circle cx="193.82" cy="153.47" r="0.75" fill="rgb(65,65,65)" opacity="0.48"/>
<circle cx="201.23" cy="154.66" r="0.79" fill="rgb(43,43,43)" opacity="0.32"/>
<circle cx="194.73" cy="152.65" r="0.93" fill="rgb(40,40,40)" opacity="0.48"/>
<circle cx="200.81" cy="155.28" r="0.66" fill="rgb(105,105,105)" opacity="0.35"/>
<circle cx="196.58" cy="159.79" r="0.95" fill="rgb(112,112,112)" opacity="0.33"/>
<circle cx="194.97" cy="151.67" r="0.91" fill="rgb(128,128,128)" opacity="0.42"/>
<circle cx="194.60" cy="152.23" r="0.92" fill="rgb(130,130,130)" opacity="0.45"/>
<circle cx="199.36" cy="158.18" r="0.90" fill="rgb(55,55,55)" opacity="0.36"/>
</g>
</g>
</g>
<clipPath id="c33"><rect x="226.6" y="137.6" width="51.2" height="37.8"/></clipPath>
<g clip-path="url(#c33)">
<g filter="url(#grain1)">
<rect x="226.6" y="137.6" width="51.2" height="37.8" fill="rgb(131,131,131)"/>
<ellipse cx="256.8" cy="145.3" rx="1.4" ry="1.4" fill="rgb(75,75,75)" opacity="0.8" filter="url(#b1)"/>
<ellipse cx="255.7" cy="151" rx="1.2" ry="1.2" fill="rgb(95,95,95)" opacity="0.7" filter="url(#b1)"/>
<ellipse cx="270.4" cy="156" rx="1.4" ry="1.4" fill="rgb(80,80,80)" opacity="0.7" filter="url(#b1)"/>
<ellipse cx="275.5" cy="156" rx="1.2" ry="1.2" fill="rgb(80,80,80)" opacity="0.6" filter="url(#b1)"/>
<ellipse cx="238.7" cy="163.4" rx="1.2" ry="1.2" fill="rgb(100,100,100)" opacity="0.6" filter="url(#b1)"/>
<ellipse cx="266.4" cy="169.6" rx="1.2" ry="1.2" fill="rgb(90,90,90)" opacity="0.6" filter="url(#b1)"/>
<ellipse cx="252" cy="161" rx="3" ry="2" fill="rgb(115,115,115)" opacity="0.5" filter="url(#b2)"/>
</g>
</g>
<clipPath id="c40"><rect x="62" y="176.8" width="50.3" height="37.2"/></clipPath>
<g clip-path="url(#c40)">
<g filter="url(#grain2)">
<rect x="62" y="176.8" width="50.3" height="37.2" fill="rgb(40,40,40)"/>
<ellipse cx="85.8" cy="200.7" rx="1.7" ry="2.8" fill="rgb(205,205,205)" opacity="1" filter="url(#b1)"/>
<ellipse cx="97.3" cy="202.4" rx="2" ry="2.3" fill="rgb(95,95,95)" opacity="0.8" filter="url(#b1)"/>
<ellipse cx="69.6" cy="205.2" rx="2.5" ry="2.5" fill="rgb(70,70,70)" opacity="0.7" filter="url(#b2)"/>
<ellipse cx="85" cy="190" rx="5" ry="4" fill="rgb(55,55,55)" opacity="0.5" filter="url(#b3)"/>
</g>
</g>
<clipPath id="c41"><rect x="114" y="176.8" width="50.8" height="37.2"/></clipPath>
<g clip-path="url(#c41)">
<g filter="url(#grain2)">
<rect x="114" y="176.8" width="50.8" height="37.2" fill="rgb(24,24,24)"/>
<ellipse cx="142.5" cy="195.1" rx="1.2" ry="1.2" fill="rgb(200,200,200)" opacity="1" filter="url(#b1)"/>
<ellipse cx="140" cy="196" rx="3" ry="3" fill="rgb(45,45,45)" opacity="0.5" filter="url(#b2)"/>
</g>
</g>
<clipPath id="c42"><rect x="174" y="176.8" width="50.3" height="37.2"/></clipPath>
<g clip-path="url(#c42)">
<g filter="url(#grain2)">
<rect x="174" y="176.8" width="50.3" height="37.2" fill="rgb(32,32,32)"/>
<ellipse cx="196" cy="194" rx="5" ry="5.5" fill="rgb(115,115,115)" opacity="0.85" filter="url(#b2)"/>
<ellipse cx="197.5" cy="182.6" rx="2" ry="2" fill="rgb(70,70,70)" opacity="0.7" filter="url(#b1)"/>
<ellipse cx="204.2" cy="198.5" rx="2" ry="1.5" fill="rgb(75,75,75)" opacity="0.7" filter="url(#b1)"/>
<ellipse cx="208.8" cy="204.1" rx="2" ry="2" fill="rgb(65,65,65)" opacity="0.7" filter="url(#b1)"/>
<g filter="url(#b0)">
<circle cx="195.54" cy="192.90" r="0.95" fill="rgb(189,189,189)" opacity="0.89"/>
<circle cx="197.46" cy="194.79" r="0.70" fill="rgb(239,239,239)" opacity="0.61"/>
<circle cx="197.74" cy="194.37" r="0.83" fill="rgb(185,185,185)" opacity="0.59"/>
<circle cx="194.67" cy="195.06" r="1.00" fill="rgb(188,188,188)" opacity="0.79"/>
<circle cx="195.86" cy="189.67" r="0.60" fill="rgb(193,193,193)" opacity="0.48"/>
<circle cx="193.50" cy="192.38" r="1.14" fill="rgb(181,181,181)" opacity="0.74"/>
<circle cx="194.51" cy="189.85" r="0.95" fill="rgb(234,234,234)" opacity="0.52"/>
<circle cx="192.90" cy="192.77" r="0.62" fill="rgb(189,189,189)" opacity="0.68"/>
<circle cx="196.20" cy="193.78" r="1.11" fill="rgb(182,182,182)" opacity="0.82"/>
<circle cx="194.04" cy="194.35" r="0.67" fill="rgb(232,232,232)" opacity="0.82"/>
<circle cx="192.46" cy="196.08" r="1.17" fill="rgb(177,177,177)" opacity="0.50"/>
<circle cx="193.07" cy="191.61" r="0.97" fill="rgb(168,168,168)" opacity="0.63"/>
<circle cx="194.66" cy="190.69" r="0.99" fill="rgb(253,253,253)" opacity="0.63"/>
<circle cx="194.85" cy="192.22" r="0.86" fill="rgb(186,186,186)" opacity="0.83"/>
<circle cx="193.72" cy="191.98" r="0.65" fill="rgb(182,182,182)" opacity="0.73"/>
<circle cx="194.17" cy="196.60" r="1.00" fill="rgb(180,180,180)" opacity="0.58"/>
<circle cx="198.12" cy="193.67" r="0.96" fill="rgb(179,179,179)" opacity="0.55"/>
<circle cx="194.71" cy="192.67" r="0.85" fill="rgb(246,246,246)" opacity="0.88"/>
<circle cx="194.92" cy="190.69" r="0.86" fill="rgb(242,242,242)" opacity="0.63"/>
<circle cx="195.27" cy="189.72" r="0.66" fill="rgb(178,178,178)" opacity="0.50"/>
<circle cx="200.03" cy="198.43" r="0.91" fill="rgb(212,212,212)" opacity="0.51"/>
<circle cx="198.68" cy="199.52" r="0.95" fill="rgb(210,210,210)" opacity="0.53"/>
<circle cx="196.02" cy="196.60" r="0.98" fill="rgb(141,141,141)" opacity="0.52"/>
<circle cx="197.08" cy="199.54" r="0.73" fill="rgb(153,153,153)" opacity="0.51"/>
<circle cx="199.53" cy="197.46" r="0.63" fill="rgb(206,206,206)" opacity="0.66"/>
<circle cx="198.97" cy="196.42" r="0.88" fill="rgb(138,138,138)" opacity="0.68"/>
<circle cx="199.80" cy="196.10" r="0.70" fill="rgb(154,154,154)" opacity="0.50"/>
<circle cx="197.00" cy="195.68" r="0.86" fill="rgb(218,218,218)" opacity="0.54"/>
<circle cx="196.27" cy="198.19" r="0.82" fill="rgb(139,139,139)" opacity="0.59"/>
</g>
</g>
</g>
<clipPath id="c43"><rect x="226.6" y="176.8" width="51.2" height="37.2"/></clipPath>
<g clip-path="url(#c43)">
<g filter="url(#grain2)">
<rect x="226.6" y="176.8" width="51.2" height="37.2" fill="rgb(40,40,40)"/>
<ellipse cx="255.1" cy="200.1" rx="1.5" ry="1.5" fill="rgb(220,220,220)" opacity="1" filter="url(#b1)"/>
<ellipse cx="255.7" cy="190" rx="2.5" ry="2.5" fill="rgb(90,90,90)" opacity="0.7" filter="url(#b1)"/>
<ellipse cx="246.6" cy="206.4" rx="1.3" ry="1.3" fill="rgb(170,170,170)" opacity="0.9" filter="url(#b1)"/>
<ellipse cx="250.2" cy="206.4" rx="1.3" ry="1.3" fill="rgb(150,150,150)" opacity="0.9" filter="url(#b1)"/>
<ellipse cx="272.6" cy="182.6" rx="1.3" ry="1" fill="rgb(170,170,170)" opacity="0.8" filter="url(#b1)"/>
<ellipse cx="256" cy="195" rx="7" ry="8" fill="rgb(55,55,55)" opacity="0.5" filter="url(#b3)"/>
</g>
</g>
<text transform="translate(64.8,28.2) scale(1,1.1)" x="0" y="0" font-size="6.3" text-anchor="start" fill="#f2f2f2" font-weight="normal" stroke="#f2f2f2" stroke-width="0.1" >- ATRA</text>
<text transform="translate(116.8,28.2) scale(1,1.1)" x="0" y="0" font-size="6.3" text-anchor="start" fill="#f2f2f2" font-weight="normal" stroke="#f2f2f2" stroke-width="0.1" >+ ATRA</text>
<text transform="translate(176.8,28.2) scale(1,1.1)" x="0" y="0" font-size="6.3" text-anchor="start" fill="#f2f2f2" font-weight="normal" stroke="#f2f2f2" stroke-width="0.1" >- ATRA</text>
<text transform="translate(229.4,28.2) scale(1,1.1)" x="0" y="0" font-size="6.3" text-anchor="start" fill="#f2f2f2" font-weight="normal" stroke="#f2f2f2" stroke-width="0.1" >+ ATRA</text>
<text transform="translate(32,42.2) scale(1,1.1)" x="0" y="0" font-size="6.1" text-anchor="middle" fill="#1a1a1a" font-weight="normal" stroke="#1a1a1a" stroke-width="0.1" >Uninfected NB4</text>
<text transform="translate(30.5,74.2) scale(1,1.1)" x="0" y="0" font-size="6.1" text-anchor="middle" fill="#1a1a1a" font-weight="normal" stroke="#1a1a1a" stroke-width="0.1" >UBE2D3 shRNA</text>
<text transform="translate(30.5,82.0) scale(1,1.1)" x="0" y="0" font-size="6.1" text-anchor="middle" fill="#1a1a1a" font-weight="normal" stroke="#1a1a1a" stroke-width="0.1" >infected NB4 (BF)</text>
<text transform="translate(29.7,114.6) scale(1,1.1)" x="0" y="0" font-size="6.1" text-anchor="middle" fill="#1a1a1a" font-weight="normal" stroke="#1a1a1a" stroke-width="0.1" >UBE2D3 shRNA</text>
<text transform="translate(29.2,122.4) scale(1,1.1)" x="0" y="0" font-size="6.1" text-anchor="middle" fill="#1a1a1a" font-weight="normal" stroke="#1a1a1a" stroke-width="0.1" >infected NB4 (GFP)</text>
<text transform="translate(31.5,152.0) scale(1,1.1)" x="0" y="0" font-size="6.1" text-anchor="middle" fill="#1a1a1a" font-weight="normal" stroke="#1a1a1a" stroke-width="0.1" >control shRNA</text>
<text transform="translate(31.3,159.4) scale(1,1.1)" x="0" y="0" font-size="6.1" text-anchor="middle" fill="#1a1a1a" font-weight="normal" stroke="#1a1a1a" stroke-width="0.1" >infected NB4 (BF)</text>
<text transform="translate(29.7,192.7) scale(1,1.1)" x="0" y="0" font-size="6.1" text-anchor="middle" fill="#1a1a1a" font-weight="normal" stroke="#1a1a1a" stroke-width="0.1" >control shRNA</text>
<text transform="translate(29.5,200.5) scale(1,1.1)" x="0" y="0" font-size="6.1" text-anchor="middle" fill="#1a1a1a" font-weight="normal" stroke="#1a1a1a" stroke-width="0.1" >infected NB4 (GFP)</text>
<text x="2.1" y="244.0" font-size="15.6" text-anchor="start" fill="#000" font-weight="bold" >B</text>
<rect x="78.6" y="239.5" width="176" height="100.4" fill="none" stroke="#b4b4b4" stroke-width="1.1"/>
<line x1="78.6" y1="339.9" x2="254.6" y2="339.9" stroke="#999" stroke-width="1.1"/>
<text transform="translate(70.6,342.20000000000005) scale(1,1.1)" x="0" y="0" font-size="6.5" text-anchor="end" fill="#1a1a1a" font-weight="normal" stroke="#1a1a1a" stroke-width="0.1" >0</text>
<text transform="translate(70.6,332.20000000000005) scale(1,1.1)" x="0" y="0" font-size="6.5" text-anchor="end" fill="#1a1a1a" font-weight="normal" stroke="#1a1a1a" stroke-width="0.1" >0.2</text>
<text transform="translate(70.6,322.20000000000005) scale(1,1.1)" x="0" y="0" font-size="6.5" text-anchor="end" fill="#1a1a1a" font-weight="normal" stroke="#1a1a1a" stroke-width="0.1" >0.4</text>
<text transform="translate(70.6,312.20000000000005) scale(1,1.1)" x="0" y="0" font-size="6.5" text-anchor="end" fill="#1a1a1a" font-weight="normal" stroke="#1a1a1a" stroke-width="0.1" >0.6</text>
<text transform="translate(70.6,302.20000000000005) scale(1,1.1)" x="0" y="0" font-size="6.5" text-anchor="end" fill="#1a1a1a" font-weight="normal" stroke="#1a1a1a" stroke-width="0.1" >0.8</text>
<text transform="translate(70.6,292.20000000000005) scale(1,1.1)" x="0" y="0" font-size="6.5" text-anchor="end" fill="#1a1a1a" font-weight="normal" stroke="#1a1a1a" stroke-width="0.1" >1.0</text>
<text transform="translate(70.6,282.20000000000005) scale(1,1.1)" x="0" y="0" font-size="6.5" text-anchor="end" fill="#1a1a1a" font-weight="normal" stroke="#1a1a1a" stroke-width="0.1" >1.2</text>
<text transform="translate(70.6,272.20000000000005) scale(1,1.1)" x="0" y="0" font-size="6.5" text-anchor="end" fill="#1a1a1a" font-weight="normal" stroke="#1a1a1a" stroke-width="0.1" >1.4</text>
<text transform="translate(70.6,262.20000000000005) scale(1,1.1)" x="0" y="0" font-size="6.5" text-anchor="end" fill="#1a1a1a" font-weight="normal" stroke="#1a1a1a" stroke-width="0.1" >1.6</text>
<text transform="translate(70.6,252.2) scale(1,1.1)" x="0" y="0" font-size="6.5" text-anchor="end" fill="#1a1a1a" font-weight="normal" stroke="#1a1a1a" stroke-width="0.1" >1.8</text>
<text transform="translate(70.6,242.2) scale(1,1.1)" x="0" y="0" font-size="6.5" text-anchor="end" fill="#1a1a1a" font-weight="normal" stroke="#1a1a1a" stroke-width="0.1" >2</text>
<rect x="88.00" y="337.50" width="12.7" height="2.50" fill="#b4b4b4" stroke="#3a3a3a" stroke-width="0.6"/>
<rect x="100.70" y="337.50" width="12.7" height="2.50" fill="#505050" stroke="#3a3a3a" stroke-width="0.6"/>
<rect x="132.10" y="327.50" width="12.7" height="12.50" fill="#b4b4b4" stroke="#3a3a3a" stroke-width="0.6"/>
<line x1="138.45" y1="327.50" x2="138.45" y2="326.75" stroke="#333" stroke-width="0.7"/>
<line x1="136.45" y1="326.75" x2="140.45" y2="326.75" stroke="#333" stroke-width="0.7"/>
<rect x="144.80" y="328.00" width="12.7" height="12.00" fill="#505050" stroke="#3a3a3a" stroke-width="0.6"/>
<line x1="151.15" y1="328.00" x2="151.15" y2="326.75" stroke="#333" stroke-width="0.7"/>
<line x1="149.15" y1="326.75" x2="153.15" y2="326.75" stroke="#333" stroke-width="0.7"/>
<rect x="176.20" y="315.00" width="12.7" height="25.00" fill="#b4b4b4" stroke="#3a3a3a" stroke-width="0.6"/>
<line x1="182.55" y1="315.00" x2="182.55" y2="311.00" stroke="#333" stroke-width="0.7"/>
<line x1="180.55" y1="311.00" x2="184.55" y2="311.00" stroke="#333" stroke-width="0.7"/>
<rect x="188.90" y="283.00" width="12.7" height="57.00" fill="#505050" stroke="#3a3a3a" stroke-width="0.6"/>
<line x1="195.25" y1="283.00" x2="195.25" y2="273.00" stroke="#333" stroke-width="0.7"/>
<line x1="193.25" y1="273.00" x2="197.25" y2="273.00" stroke="#333" stroke-width="0.7"/>
<rect x="220.30" y="292.50" width="12.7" height="47.50" fill="#b4b4b4" stroke="#3a3a3a" stroke-width="0.6"/>
<line x1="226.65" y1="292.50" x2="226.65" y2="281.00" stroke="#333" stroke-width="0.7"/>
<line x1="224.65" y1="281.00" x2="228.65" y2="281.00" stroke="#333" stroke-width="0.7"/>
<rect x="233.00" y="260.00" width="12.7" height="80.00" fill="#505050" stroke="#3a3a3a" stroke-width="0.6"/>
<line x1="239.35" y1="260.00" x2="239.35" y2="255.50" stroke="#333" stroke-width="0.7"/>
<line x1="237.35" y1="255.50" x2="241.35" y2="255.50" stroke="#333" stroke-width="0.7"/>
<polyline points="180.6,306.5 180.6,257.2 193.6,257.2 193.6,269.2" fill="none" stroke="#777" stroke-width="0.6"/>
<polyline points="224.2,279 224.2,248.9 237.2,248.9 237.2,254.3" fill="none" stroke="#777" stroke-width="0.6"/>
<circle cx="185.2" cy="250.9" r="1.3" fill="#111"/>
<circle cx="229.2" cy="242.0" r="1.3" fill="#111"/>
<rect x="94" y="250.4" width="5.3" height="4.3" fill="#b4b4b4" stroke="#444" stroke-width="0.6"/>
<rect x="94" y="261" width="5.3" height="4.3" fill="#505050" stroke="#333" stroke-width="0.6"/>
<text transform="translate(102,254.8) scale(1,1.1)" x="0" y="0" font-size="6.1" text-anchor="start" fill="#1a1a1a" font-weight="normal" stroke="#1a1a1a" stroke-width="0.1" >control shRNA</text>
<text transform="translate(102,265.1) scale(1,1.1)" x="0" y="0" font-size="6.1" text-anchor="start" fill="#1a1a1a" font-weight="normal" stroke="#1a1a1a" stroke-width="0.1" >UBE2D3 shRNA</text>
<text transform="translate(97.5,352.8) scale(1,1.1)" x="0" y="0" font-size="6.9" text-anchor="middle" fill="#1a1a1a" font-weight="normal" stroke="#1a1a1a" stroke-width="0.1" >day 0</text>
<text transform="translate(141.6,352.8) scale(1,1.1)" x="0" y="0" font-size="6.9" text-anchor="middle" fill="#1a1a1a" font-weight="normal" stroke="#1a1a1a" stroke-width="0.1" >day 1</text>
<text transform="translate(185.7,352.8) scale(1,1.1)" x="0" y="0" font-size="6.9" text-anchor="middle" fill="#1a1a1a" font-weight="normal" stroke="#1a1a1a" stroke-width="0.1" >day 2</text>
<text transform="translate(229.8,352.8) scale(1,1.1)" x="0" y="0" font-size="6.9" text-anchor="middle" fill="#1a1a1a" font-weight="normal" stroke="#1a1a1a" stroke-width="0.1" >day 3</text>
<text transform="translate(164.1,364.5) scale(1,1.1)" x="0" y="0" font-size="7" text-anchor="middle" fill="#1a1a1a" font-weight="normal" stroke="#1a1a1a" stroke-width="0.1" >ATRA treatment</text>
<text transform="translate(45.3,286.8) rotate(-90) scale(1,1.1)" x="0" y="0" font-size="6.9" text-anchor="middle" fill="#1a1a1a" stroke="#1a1a1a" stroke-width="0.1" >Number of GFP- positive cells</text>
<text transform="translate(54.6,285.3) rotate(-90) scale(1,1.1)" x="0" y="0" font-size="6.9" text-anchor="middle" fill="#1a1a1a" stroke="#1a1a1a" stroke-width="0.1" >(x 10<tspan font-size="4" dy="-2">6</tspan><tspan dy="2">)</tspan></text>
<text x="295.8" y="13.4" font-size="15.6" text-anchor="start" fill="#000" font-weight="bold" >C</text>
<rect x="351.7" y="10.7" width="164.2" height="93.2" fill="none" stroke="#b8b8b8" stroke-width="1.2"/>
<line x1="351.7" y1="103.9" x2="515.9" y2="103.9" stroke="#aaa" stroke-width="1.2"/>
<text transform="translate(345.9,106.3) scale(1,1.1)" x="0" y="0" font-size="6.3" text-anchor="end" fill="#1a1a1a" font-weight="normal" stroke="#1a1a1a" stroke-width="0.1" >0</text>
<text transform="translate(345.9,95.89999999999999) scale(1,1.1)" x="0" y="0" font-size="6.3" text-anchor="end" fill="#1a1a1a" font-weight="normal" stroke="#1a1a1a" stroke-width="0.1" >10</text>
<text transform="translate(345.9,85.5) scale(1,1.1)" x="0" y="0" font-size="6.3" text-anchor="end" fill="#1a1a1a" font-weight="normal" stroke="#1a1a1a" stroke-width="0.1" >20</text>
<text transform="translate(345.9,75.1) scale(1,1.1)" x="0" y="0" font-size="6.3" text-anchor="end" fill="#1a1a1a" font-weight="normal" stroke="#1a1a1a" stroke-width="0.1" >30</text>
<text transform="translate(345.9,64.7) scale(1,1.1)" x="0" y="0" font-size="6.3" text-anchor="end" fill="#1a1a1a" font-weight="normal" stroke="#1a1a1a" stroke-width="0.1" >40</text>
<text transform="translate(345.9,54.300000000000004) scale(1,1.1)" x="0" y="0" font-size="6.3" text-anchor="end" fill="#1a1a1a" font-weight="normal" stroke="#1a1a1a" stroke-width="0.1" >50</text>
<text transform="translate(345.9,43.9) scale(1,1.1)" x="0" y="0" font-size="6.3" text-anchor="end" fill="#1a1a1a" font-weight="normal" stroke="#1a1a1a" stroke-width="0.1" >60</text>
<text transform="translate(345.9,33.50000000000001) scale(1,1.1)" x="0" y="0" font-size="6.3" text-anchor="end" fill="#1a1a1a" font-weight="normal" stroke="#1a1a1a" stroke-width="0.1" >70</text>
<text transform="translate(345.9,23.1) scale(1,1.1)" x="0" y="0" font-size="6.3" text-anchor="end" fill="#1a1a1a" font-weight="normal" stroke="#1a1a1a" stroke-width="0.1" >80</text>
<text transform="translate(345.9,12.699999999999994) scale(1,1.1)" x="0" y="0" font-size="6.3" text-anchor="end" fill="#1a1a1a" font-weight="normal" stroke="#1a1a1a" stroke-width="0.1" >90</text>
<polyline points="372.5,91.22 413.3,77.70 454.5,47.02 495.4,27.26" fill="none" stroke="#909090" stroke-width="0.8"/>
<polyline points="372.5,91.22 413.3,91.22 454.5,91.22 495.4,91.22" fill="none" stroke="#333" stroke-width="1.1"/>
<circle cx="372.5" cy="91.22" r="1.6" fill="#000"/>
<path d="M413.3,93.30V89.14M411.5,93.30h3.6M411.5,89.14h3.6" stroke="#111" stroke-width="0.6" fill="none"/>
<circle cx="413.3" cy="91.22" r="1.6" fill="#000"/>
<circle cx="454.5" cy="91.22" r="1.6" fill="#000"/>
<circle cx="495.4" cy="91.22" r="1.6" fill="#000"/>
<rect x="370.9" y="89.62" width="3.2" height="3.2" fill="#777" stroke="#444" stroke-width="0.4"/>
<path d="M413.3,80.30V75.10M411.5,80.30h3.6M411.5,75.10h3.6" stroke="#555" stroke-width="0.6" fill="none"/>
<rect x="411.7" y="76.10" width="3.2" height="3.2" fill="#777" stroke="#444" stroke-width="0.4"/>
<path d="M454.5,52.22V41.82M452.7,52.22h3.6M452.7,41.82h3.6" stroke="#555" stroke-width="0.6" fill="none"/>
<rect x="452.9" y="45.42" width="3.2" height="3.2" fill="#777" stroke="#444" stroke-width="0.4"/>
<path d="M495.4,31.42V23.10M493.59999999999997,31.42h3.6M493.59999999999997,23.10h3.6" stroke="#555" stroke-width="0.6" fill="none"/>
<rect x="493.79999999999995" y="25.66" width="3.2" height="3.2" fill="#777" stroke="#444" stroke-width="0.4"/>
<line x1="356.9" y1="17.3" x2="368.9" y2="17.3" stroke="#222" stroke-width="0.8"/>
<circle cx="363" cy="17.3" r="1.4" fill="#000"/>
<line x1="356.9" y1="28.4" x2="368.9" y2="28.4" stroke="#909090" stroke-width="0.8"/>
<rect x="361.5" y="26.9" width="3" height="3" fill="#777" stroke="#444" stroke-width="0.4"/>
<text transform="translate(371.7,19.0) scale(1,1.1)" x="0" y="0" font-size="5.33" text-anchor="start" fill="#1a1a1a" font-weight="normal" stroke="#1a1a1a" stroke-width="0.1" >Untreated UBE2D3 shRNA-infected cells</text>
<text transform="translate(371.7,29.7) scale(1,1.1)" x="0" y="0" font-size="5.33" text-anchor="start" fill="#1a1a1a" font-weight="normal" stroke="#1a1a1a" stroke-width="0.1" >ATRA-treated UBE2D3 shRNA-infected cells</text>
<text transform="translate(372.7,116.3) scale(1,1.1)" x="0" y="0" font-size="6.1" text-anchor="middle" fill="#1a1a1a" font-weight="normal" stroke="#1a1a1a" stroke-width="0.1" >day 0</text>
<text transform="translate(413.3,116.3) scale(1,1.1)" x="0" y="0" font-size="6.1" text-anchor="middle" fill="#1a1a1a" font-weight="normal" stroke="#1a1a1a" stroke-width="0.1" >day 1</text>
<text transform="translate(454.7,116.3) scale(1,1.1)" x="0" y="0" font-size="6.1" text-anchor="middle" fill="#1a1a1a" font-weight="normal" stroke="#1a1a1a" stroke-width="0.1" >day 2</text>
<text transform="translate(496,116.3) scale(1,1.1)" x="0" y="0" font-size="6.1" text-anchor="middle" fill="#1a1a1a" font-weight="normal" stroke="#1a1a1a" stroke-width="0.1" >day 3</text>
<text transform="translate(333.4,55.3) rotate(-90) scale(1,1.1)" x="0" y="0" font-size="6.05" text-anchor="middle" fill="#1a1a1a" stroke="#1a1a1a" stroke-width="0.1" >GFP-positive cells (%)</text>
<text x="296.0" y="145.0" font-size="15.2" text-anchor="start" fill="#000" font-weight="bold" >D</text>
<rect x="363.3" y="137.5" width="154.9" height="98.5" fill="none" stroke="#b8b8b8" stroke-width="1.2"/>
<line x1="363.3" y1="236" x2="518.2" y2="236" stroke="#aaa" stroke-width="1.2"/>
<text transform="translate(356.1,238.3) scale(1,1.1)" x="0" y="0" font-size="6.2" text-anchor="end" fill="#1a1a1a" font-weight="normal" stroke="#1a1a1a" stroke-width="0.1" >0</text>
<text transform="translate(356.1,228.52) scale(1,1.1)" x="0" y="0" font-size="6.2" text-anchor="end" fill="#1a1a1a" font-weight="normal" stroke="#1a1a1a" stroke-width="0.1" >0.2</text>
<text transform="translate(356.1,218.74) scale(1,1.1)" x="0" y="0" font-size="6.2" text-anchor="end" fill="#1a1a1a" font-weight="normal" stroke="#1a1a1a" stroke-width="0.1" >0.4</text>
<text transform="translate(356.1,208.96) scale(1,1.1)" x="0" y="0" font-size="6.2" text-anchor="end" fill="#1a1a1a" font-weight="normal" stroke="#1a1a1a" stroke-width="0.1" >0.6</text>
<text transform="translate(356.1,199.18) scale(1,1.1)" x="0" y="0" font-size="6.2" text-anchor="end" fill="#1a1a1a" font-weight="normal" stroke="#1a1a1a" stroke-width="0.1" >0.8</text>
<text transform="translate(356.1,189.4) scale(1,1.1)" x="0" y="0" font-size="6.2" text-anchor="end" fill="#1a1a1a" font-weight="normal" stroke="#1a1a1a" stroke-width="0.1" >1.0</text>
<text transform="translate(356.1,179.62) scale(1,1.1)" x="0" y="0" font-size="6.2" text-anchor="end" fill="#1a1a1a" font-weight="normal" stroke="#1a1a1a" stroke-width="0.1" >1.2</text>
<text transform="translate(356.1,169.84) scale(1,1.1)" x="0" y="0" font-size="6.2" text-anchor="end" fill="#1a1a1a" font-weight="normal" stroke="#1a1a1a" stroke-width="0.1" >1.4</text>
<text transform="translate(356.1,160.06) scale(1,1.1)" x="0" y="0" font-size="6.2" text-anchor="end" fill="#1a1a1a" font-weight="normal" stroke="#1a1a1a" stroke-width="0.1" >1.6</text>
<text transform="translate(356.1,150.28000000000003) scale(1,1.1)" x="0" y="0" font-size="6.2" text-anchor="end" fill="#1a1a1a" font-weight="normal" stroke="#1a1a1a" stroke-width="0.1" >1.8</text>
<text transform="translate(356.1,140.5) scale(1,1.1)" x="0" y="0" font-size="6.2" text-anchor="end" fill="#1a1a1a" font-weight="normal" stroke="#1a1a1a" stroke-width="0.1" >2</text>
<polyline points="382.4,228.18 421.9,212.53 460.7,180.25 498.6,149.94" fill="none" stroke="#909090" stroke-width="0.8"/>
<polyline points="382.4,228.18 421.9,216.44 460.7,193.46 498.6,167.05" fill="none" stroke="#222" stroke-width="0.9"/>
<circle cx="382.4" cy="228.18" r="1.6" fill="#000"/>
<path d="M421.9,222.31V210.57M420.09999999999997,222.31h3.6M420.09999999999997,210.57h3.6" stroke="#111" stroke-width="0.6" fill="none"/>
<circle cx="421.9" cy="216.44" r="1.6" fill="#000"/>
<path d="M460.7,197.37V189.55M458.9,197.37h3.6M458.9,189.55h3.6" stroke="#111" stroke-width="0.6" fill="none"/>
<circle cx="460.7" cy="193.46" r="1.6" fill="#000"/>
<path d="M498.6,175.36V158.74M496.8,175.36h3.6M496.8,158.74h3.6" stroke="#111" stroke-width="0.6" fill="none"/>
<circle cx="498.6" cy="167.05" r="1.6" fill="#000"/>
<rect x="380.9" y="226.68" width="3" height="3" fill="#777" stroke="#444" stroke-width="0.4"/>
<path d="M421.9,214.48V210.57M420.09999999999997,214.48h3.6M420.09999999999997,210.57h3.6" stroke="#555" stroke-width="0.6" fill="none"/>
<rect x="420.4" y="211.03" width="3" height="3" fill="#777" stroke="#444" stroke-width="0.4"/>
<path d="M460.7,184.17V176.34M458.9,184.17h3.6M458.9,176.34h3.6" stroke="#555" stroke-width="0.6" fill="none"/>
<rect x="459.2" y="178.75" width="3" height="3" fill="#777" stroke="#444" stroke-width="0.4"/>
<path d="M498.6,156.78V143.09M496.8,156.78h3.6M496.8,143.09h3.6" stroke="#555" stroke-width="0.6" fill="none"/>
<rect x="497.1" y="148.44" width="3" height="3" fill="#777" stroke="#444" stroke-width="0.4"/>
<line x1="369.5" y1="146.2" x2="380.5" y2="146.2" stroke="#222" stroke-width="0.8"/>
<circle cx="375" cy="146.2" r="1.4" fill="#000"/>
<line x1="369.5" y1="155.9" x2="380.5" y2="155.9" stroke="#909090" stroke-width="0.8"/>
<rect x="373.5" y="154.4" width="3" height="3" fill="#777" stroke="#444" stroke-width="0.4"/>
<text transform="translate(383.4,148.1) scale(1,1.1)" x="0" y="0" font-size="5.38" text-anchor="start" fill="#1a1a1a" font-weight="normal" stroke="#1a1a1a" stroke-width="0.1" >Cells infected with UBE2D3 shRNA</text>
<text transform="translate(383.4,157.8) scale(1,1.1)" x="0" y="0" font-size="5.38" text-anchor="start" fill="#1a1a1a" font-weight="normal" stroke="#1a1a1a" stroke-width="0.1" >Cells infected with control shRNA</text>
<text transform="translate(381.2,248.0) scale(1,1.1)" x="0" y="0" font-size="6.1" text-anchor="middle" fill="#1a1a1a" font-weight="normal" stroke="#1a1a1a" stroke-width="0.1" >day 0</text>
<text transform="translate(419,248.0) scale(1,1.1)" x="0" y="0" font-size="6.1" text-anchor="middle" fill="#1a1a1a" font-weight="normal" stroke="#1a1a1a" stroke-width="0.1" >day 1</text>
<text transform="translate(457.5,248.0) scale(1,1.1)" x="0" y="0" font-size="6.1" text-anchor="middle" fill="#1a1a1a" font-weight="normal" stroke="#1a1a1a" stroke-width="0.1" >day 2</text>
<text transform="translate(496.1,248.0) scale(1,1.1)" x="0" y="0" font-size="6.1" text-anchor="middle" fill="#1a1a1a" font-weight="normal" stroke="#1a1a1a" stroke-width="0.1" >day 3</text>
<text transform="translate(439.2,261.3) scale(1,1.1)" x="0" y="0" font-size="7.02" text-anchor="middle" fill="#1a1a1a" font-weight="normal" stroke="#1a1a1a" stroke-width="0.1" >Cell growth curve in the absence of ATRA</text>
<text transform="translate(328.3,185.0) rotate(-90) scale(1,1.1)" x="0" y="0" font-size="6.9" text-anchor="middle" fill="#1a1a1a" stroke="#1a1a1a" stroke-width="0.1" >Number of GFP- positive cells</text>
<text transform="translate(338.2,183.8) rotate(-90) scale(1,1.1)" x="0" y="0" font-size="6.9" text-anchor="middle" fill="#1a1a1a" stroke="#1a1a1a" stroke-width="0.1" >(x 10<tspan font-size="4" dy="-2">6</tspan><tspan dy="2">)</tspan></text>
<text x="296.0" y="292.8" font-size="15.6" text-anchor="start" fill="#000" font-weight="bold" >E</text>
<rect x="358.6" y="287.4" width="157.3" height="88.6" fill="none" stroke="#b8b8b8" stroke-width="1.2"/>
<line x1="358.6" y1="376.1" x2="515.9" y2="376.1" stroke="#999" stroke-width="1.2"/>
<text transform="translate(350.1,378.2) scale(1,1.1)" x="0" y="0" font-size="5.8" text-anchor="end" fill="#1a1a1a" font-weight="normal" stroke="#1a1a1a" stroke-width="0.1" >0</text>
<text transform="translate(350.1,365.63) scale(1,1.1)" x="0" y="0" font-size="5.8" text-anchor="end" fill="#1a1a1a" font-weight="normal" stroke="#1a1a1a" stroke-width="0.1" >0.5</text>
<text transform="translate(350.1,353.06) scale(1,1.1)" x="0" y="0" font-size="5.8" text-anchor="end" fill="#1a1a1a" font-weight="normal" stroke="#1a1a1a" stroke-width="0.1" >1</text>
<text transform="translate(350.1,340.49) scale(1,1.1)" x="0" y="0" font-size="5.8" text-anchor="end" fill="#1a1a1a" font-weight="normal" stroke="#1a1a1a" stroke-width="0.1" >1.5</text>
<text transform="translate(350.1,327.91999999999996) scale(1,1.1)" x="0" y="0" font-size="5.8" text-anchor="end" fill="#1a1a1a" font-weight="normal" stroke="#1a1a1a" stroke-width="0.1" >2</text>
<text transform="translate(350.1,315.34999999999997) scale(1,1.1)" x="0" y="0" font-size="5.8" text-anchor="end" fill="#1a1a1a" font-weight="normal" stroke="#1a1a1a" stroke-width="0.1" >2.5</text>
<text transform="translate(350.1,302.78) scale(1,1.1)" x="0" y="0" font-size="5.8" text-anchor="end" fill="#1a1a1a" font-weight="normal" stroke="#1a1a1a" stroke-width="0.1" >3</text>
<text transform="translate(350.1,290.21) scale(1,1.1)" x="0" y="0" font-size="5.8" text-anchor="end" fill="#1a1a1a" font-weight="normal" stroke="#1a1a1a" stroke-width="0.1" >3.5</text>
<rect x="363.40" y="371.17" width="9.2" height="5.03" fill="#b0b0b0" stroke="#333" stroke-width="0.6"/>
<rect x="372.60" y="371.17" width="9.2" height="5.03" fill="#4a4a4a" stroke="#333" stroke-width="0.6"/>
<rect x="381.80" y="371.17" width="9.2" height="5.03" fill="#ffffff" stroke="#333" stroke-width="0.6"/>
<rect x="403.20" y="367.15" width="9.2" height="9.05" fill="#b0b0b0" stroke="#333" stroke-width="0.6"/>
<path d="M407.80,367.15V366.65M405.80,366.65h4" stroke="#333" stroke-width="0.7" fill="none"/>
<rect x="412.40" y="370.42" width="9.2" height="5.78" fill="#4a4a4a" stroke="#333" stroke-width="0.6"/>
<path d="M417.00,370.42V369.41M415.00,369.41h4" stroke="#333" stroke-width="0.7" fill="none"/>
<rect x="421.60" y="369.41" width="9.2" height="6.79" fill="#ffffff" stroke="#333" stroke-width="0.6"/>
<path d="M426.20,369.41V368.91M424.20,368.91h4" stroke="#333" stroke-width="0.7" fill="none"/>
<rect x="443.20" y="343.52" width="9.2" height="32.68" fill="#b0b0b0" stroke="#333" stroke-width="0.6"/>
<path d="M447.80,343.52V340.25M445.80,340.25h4" stroke="#333" stroke-width="0.7" fill="none"/>
<rect x="452.40" y="368.91" width="9.2" height="7.29" fill="#4a4a4a" stroke="#333" stroke-width="0.6"/>
<path d="M457.00,368.91V368.16M455.00,368.16h4" stroke="#333" stroke-width="0.7" fill="none"/>
<rect x="461.60" y="368.66" width="9.2" height="7.54" fill="#ffffff" stroke="#333" stroke-width="0.6"/>
<path d="M466.20,368.66V366.40M464.20,366.40h4" stroke="#333" stroke-width="0.7" fill="none"/>
<rect x="482.40" y="300.78" width="9.2" height="75.42" fill="#b0b0b0" stroke="#333" stroke-width="0.6"/>
<path d="M487.00,300.78V293.24M485.00,293.24h4" stroke="#333" stroke-width="0.7" fill="none"/>
<rect x="491.60" y="369.41" width="9.2" height="6.79" fill="#4a4a4a" stroke="#333" stroke-width="0.6"/>
<path d="M496.20,369.41V368.41M494.20,368.41h4" stroke="#333" stroke-width="0.7" fill="none"/>
<rect x="500.80" y="369.41" width="9.2" height="6.79" fill="#ffffff" stroke="#333" stroke-width="0.6"/>
<path d="M505.40,369.41V368.91M503.40,368.91h4" stroke="#333" stroke-width="0.7" fill="none"/>
<rect x="364.3" y="299" width="5.2" height="3.4" fill="#b0b0b0" stroke="#333" stroke-width="0.6"/>
<rect x="364.3" y="310.8" width="5.2" height="3.4" fill="#4a4a4a" stroke="#333" stroke-width="0.6"/>
<rect x="364.3" y="327.8" width="5.2" height="3.4" fill="#fff" stroke="#333" stroke-width="0.6"/>
<text transform="translate(372.4,302.1) scale(1,1.1)" x="0" y="0" font-size="5.75" text-anchor="start" fill="#1a1a1a" font-weight="normal" stroke="#1a1a1a" stroke-width="0.1" >untreated NB4 cells</text>
<text transform="translate(372.4,314.1) scale(1,1.1)" x="0" y="0" font-size="5.75" text-anchor="start" fill="#1a1a1a" font-weight="normal" stroke="#1a1a1a" stroke-width="0.1" >STS treated/UBE2D3</text>
<text transform="translate(372.4,321.7) scale(1,1.1)" x="0" y="0" font-size="5.75" text-anchor="start" fill="#1a1a1a" font-weight="normal" stroke="#1a1a1a" stroke-width="0.1" >shRNA infected cells</text>
<text transform="translate(372.4,331.8) scale(1,1.1)" x="0" y="0" font-size="5.75" text-anchor="start" fill="#1a1a1a" font-weight="normal" stroke="#1a1a1a" stroke-width="0.1" >STS treated/control</text>
<text transform="translate(372.4,338.8) scale(1,1.1)" x="0" y="0" font-size="5.75" text-anchor="start" fill="#1a1a1a" font-weight="normal" stroke="#1a1a1a" stroke-width="0.1" >shRNA infected cells</text>
<text transform="translate(377.9,388.4) scale(1,1.1)" x="0" y="0" font-size="6.5" text-anchor="middle" fill="#1a1a1a" font-weight="normal" stroke="#1a1a1a" stroke-width="0.1" >day 0</text>
<text transform="translate(417.4,388.4) scale(1,1.1)" x="0" y="0" font-size="6.5" text-anchor="middle" fill="#1a1a1a" font-weight="normal" stroke="#1a1a1a" stroke-width="0.1" >day 1</text>
<text transform="translate(457.7,388.4) scale(1,1.1)" x="0" y="0" font-size="6.5" text-anchor="middle" fill="#1a1a1a" font-weight="normal" stroke="#1a1a1a" stroke-width="0.1" >day 2</text>
<text transform="translate(497,388.4) scale(1,1.1)" x="0" y="0" font-size="6.5" text-anchor="middle" fill="#1a1a1a" font-weight="normal" stroke="#1a1a1a" stroke-width="0.1" >day 3</text>
<text transform="translate(325.6,330.7) rotate(-90) scale(1,1.1)" x="0" y="0" font-size="6.8" text-anchor="middle" fill="#1a1a1a" stroke="#1a1a1a" stroke-width="0.1" >Cell number</text>
<text transform="translate(336.3,329.7) rotate(-90) scale(1,1.1)" x="0" y="0" font-size="6.3" text-anchor="middle" fill="#1a1a1a" stroke="#1a1a1a" stroke-width="0.1" >(x 10<tspan font-size="3.8" dy="-2">6</tspan><tspan dy="2">)</tspan></text>
</svg></body></html>
